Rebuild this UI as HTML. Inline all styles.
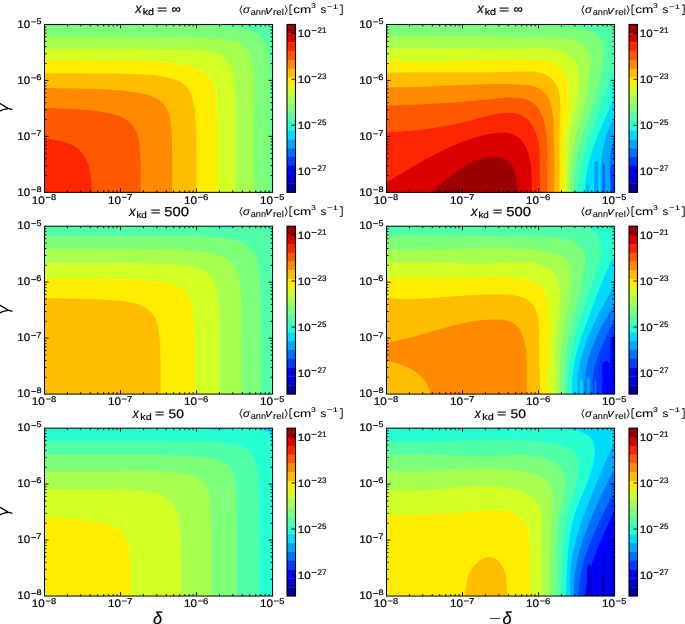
<!DOCTYPE html>
<html><head><meta charset="utf-8"><style>
html,body{margin:0;padding:0;background:#fff;}
svg{display:block;font-family:"Liberation Sans",sans-serif;}
text{stroke:#000;stroke-width:0.2px;text-rendering:geometricPrecision;}
text.ns{stroke-width:0.08px;}
svg{will-change:transform;}
</style></head><body>
<svg width="685" height="624" viewBox="0 0 685 624">
<defs><clipPath id="c00"><rect x="44.50" y="24.45" width="228.10" height="167.90"/></clipPath><clipPath id="c01"><rect x="44.50" y="226.20" width="228.10" height="167.90"/></clipPath><clipPath id="c02"><rect x="44.50" y="428.15" width="228.10" height="167.90"/></clipPath><clipPath id="c10"><rect x="386.50" y="24.45" width="228.10" height="167.90"/></clipPath><clipPath id="c11"><rect x="386.50" y="226.20" width="228.10" height="167.90"/></clipPath><clipPath id="c12"><rect x="386.50" y="428.15" width="228.10" height="167.90"/></clipPath></defs>
<rect width="685" height="624" fill="#fff"/>
<g clip-path="url(#c00)">
<rect x="44.5" y="24.4" width="228.1" height="167.9" fill="#50ffa7"/>
<path d="M43.5 193.5 270.3 193.5 270.2 99.5 270.1 77.7 269.6 64.5 268.7 54.8 268.0 50.8 267.2 47.2 266.2 44.2 264.8 41.1 263.2 38.6 261.4 36.5 259.4 34.7 256.8 33.0 253.9 31.5 250.8 30.3 244.1 28.6 235.5 27.4 224.8 26.6 210.6 26.1 170.0 25.7 43.0 25.7 43.0 193.5Z" fill="#7dff7a"/>
<path d="M43.5 193.5 253.6 193.5 253.6 103.1 253.4 83.8 253.0 72.1 252.1 63.5 250.7 56.9 249.7 53.8 248.4 51.3 247.1 49.2 245.3 47.2 243.5 45.7 241.1 44.1 238.1 42.6 235.0 41.5 228.4 39.9 219.8 38.7 208.6 37.9 193.9 37.4 149.7 36.9 43.0 36.8 43.0 193.5Z" fill="#a7ff50"/>
<path d="M43.5 193.5 235.7 193.5 235.7 120.3 235.5 100.0 235.1 87.3 234.2 77.7 232.7 70.6 231.8 67.5 230.4 64.5 228.9 62.1 227.4 60.2 225.5 58.4 223.3 56.7 220.8 55.3 217.7 54.0 214.7 53.0 211.1 52.1 203.2 50.8 192.8 49.8 179.6 49.2 163.4 48.9 140.5 48.7 43.0 48.5 43.0 193.5Z" fill="#d1ff26"/>
<path d="M43.5 193.5 217.4 193.5 217.4 140.7 217.2 119.8 216.7 106.1 215.8 96.0 214.4 88.3 213.3 84.8 212.1 81.7 210.7 79.2 209.0 76.7 207.1 74.5 204.5 72.3 201.9 70.6 198.9 69.0 195.4 67.5 191.8 66.3 187.8 65.3 182.7 64.3 171.0 62.7 156.8 61.6 139.5 60.8 116.6 60.4 43.0 59.9 43.0 193.5Z" fill="#feed00"/>
<path d="M43.5 193.5 196.3 193.5 196.2 154.4 196.0 133.0 195.5 119.3 194.7 109.2 193.3 101.0 192.4 97.5 191.3 94.4 189.9 91.4 188.3 88.8 186.7 86.8 184.6 84.8 182.2 82.9 179.6 81.4 176.6 80.0 173.5 78.9 165.9 76.9 156.3 75.5 144.6 74.5 130.4 73.9 111.1 73.5 43.0 73.2 43.0 193.5Z" fill="#ffbd00"/>
<path d="M43.5 193.5 172.2 193.5 172.2 159.4 172.0 142.2 171.6 131.0 170.7 122.4 169.4 115.8 168.5 112.7 167.5 110.2 166.2 107.6 164.8 105.6 163.1 103.6 160.9 101.5 158.8 100.0 156.3 98.5 153.2 97.0 150.2 95.8 146.1 94.5 142.0 93.5 133.1 91.9 121.2 90.5 107.5 89.5 91.2 88.8 69.4 88.4 43.0 88.1 43.0 193.5Z" fill="#ff8900"/>
<path d="M43.5 193.5 140.8 193.5 140.7 180.8 140.5 164.5 140.1 153.9 139.4 145.2 138.3 138.6 136.7 133.0 135.7 130.5 134.4 128.1 133.0 125.9 131.4 123.9 127.8 120.7 123.1 117.8 117.0 115.3 109.9 113.2 100.4 111.5 90.0 110.2 77.0 109.2 61.8 108.4 43.0 107.9 43.0 193.5Z" fill="#ff5900"/>
<path d="M43.5 193.5 92.3 193.5 91.8 185.3 91.1 178.7 90.2 172.6 89.1 167.6 87.7 163.0 86.0 158.9 84.0 155.4 81.6 152.2 78.6 149.3 75.5 147.0 71.9 145.0 67.4 143.1 62.3 141.6 56.7 140.3 50.1 139.2 43.0 138.4 43.0 193.5Z" fill="#ff2500"/>
</g>
<path d="M67.39 192.35v-2.0M67.39 24.45v2.0M44.50 175.50h2.0M272.60 175.50h-2.0M80.78 192.35v-2.0M80.78 24.45v2.0M44.50 165.65h2.0M272.60 165.65h-2.0M90.28 192.35v-2.0M90.28 24.45v2.0M44.50 158.65h2.0M272.60 158.65h-2.0M97.65 192.35v-2.0M97.65 24.45v2.0M44.50 153.23h2.0M272.60 153.23h-2.0M103.67 192.35v-2.0M103.67 24.45v2.0M44.50 148.80h2.0M272.60 148.80h-2.0M108.76 192.35v-2.0M108.76 24.45v2.0M44.50 145.05h2.0M272.60 145.05h-2.0M113.16 192.35v-2.0M113.16 24.45v2.0M44.50 141.81h2.0M272.60 141.81h-2.0M117.05 192.35v-2.0M117.05 24.45v2.0M44.50 138.94h2.0M272.60 138.94h-2.0M120.53 192.35v-4.0M120.53 24.45v4.0M44.50 136.38h4.0M272.60 136.38h-4.0M143.42 192.35v-2.0M143.42 24.45v2.0M44.50 119.54h2.0M272.60 119.54h-2.0M156.81 192.35v-2.0M156.81 24.45v2.0M44.50 109.68h2.0M272.60 109.68h-2.0M166.31 192.35v-2.0M166.31 24.45v2.0M44.50 102.69h2.0M272.60 102.69h-2.0M173.68 192.35v-2.0M173.68 24.45v2.0M44.50 97.26h2.0M272.60 97.26h-2.0M179.70 192.35v-2.0M179.70 24.45v2.0M44.50 92.83h2.0M272.60 92.83h-2.0M184.79 192.35v-2.0M184.79 24.45v2.0M44.50 89.09h2.0M272.60 89.09h-2.0M189.20 192.35v-2.0M189.20 24.45v2.0M44.50 85.84h2.0M272.60 85.84h-2.0M193.09 192.35v-2.0M193.09 24.45v2.0M44.50 82.98h2.0M272.60 82.98h-2.0M196.57 192.35v-4.0M196.57 24.45v4.0M44.50 80.42h4.0M272.60 80.42h-4.0M219.45 192.35v-2.0M219.45 24.45v2.0M44.50 63.57h2.0M272.60 63.57h-2.0M232.84 192.35v-2.0M232.84 24.45v2.0M44.50 53.71h2.0M272.60 53.71h-2.0M242.34 192.35v-2.0M242.34 24.45v2.0M44.50 46.72h2.0M272.60 46.72h-2.0M249.71 192.35v-2.0M249.71 24.45v2.0M44.50 41.30h2.0M272.60 41.30h-2.0M255.73 192.35v-2.0M255.73 24.45v2.0M44.50 36.87h2.0M272.60 36.87h-2.0M260.82 192.35v-2.0M260.82 24.45v2.0M44.50 33.12h2.0M272.60 33.12h-2.0M265.23 192.35v-2.0M265.23 24.45v2.0M44.50 29.87h2.0M272.60 29.87h-2.0M269.12 192.35v-2.0M269.12 24.45v2.0M44.50 27.01h2.0M272.60 27.01h-2.0" stroke="#000" stroke-width="0.9" fill="none"/>
<rect x="44.50" y="24.45" width="228.10" height="167.90" fill="none" stroke="#000" stroke-width="1.0"/>
<text transform="translate(17.27 27.74) scale(1.056 1)" font-size="10.99" fill="#000">10</text>
<rect x="31.20" y="21.47" width="4.80" height="0.85" fill="#000"/>
<text transform="translate(36.44 23.77) scale(1.091 1)" font-size="8.21" fill="#000">5</text>
<text transform="translate(17.27 83.71) scale(1.056 1)" font-size="10.99" fill="#000">10</text>
<rect x="31.20" y="77.44" width="4.80" height="0.85" fill="#000"/>
<text transform="translate(36.33 79.74) scale(1.154 1)" font-size="8.10" fill="#000">6</text>
<text transform="translate(17.27 139.67) scale(1.056 1)" font-size="10.99" fill="#000">10</text>
<rect x="31.20" y="133.41" width="4.80" height="0.85" fill="#000"/>
<text transform="translate(36.33 135.78) scale(1.122 1)" font-size="8.33" fill="#000">7</text>
<text transform="translate(17.27 195.64) scale(1.056 1)" font-size="10.99" fill="#000">10</text>
<rect x="31.20" y="189.37" width="4.80" height="0.85" fill="#000"/>
<text transform="translate(36.43 191.67) scale(1.130 1)" font-size="8.10" fill="#000">8</text>
<text transform="translate(31.86 203.74) scale(1.065 1)" font-size="10.99" fill="#000">10</text>
<rect x="45.80" y="196.87" width="4.90" height="0.85" fill="#000"/>
<text transform="translate(51.03 199.82) scale(1.117 1)" font-size="8.38" fill="#000">8</text>
<text transform="translate(107.90 203.74) scale(1.065 1)" font-size="10.99" fill="#000">10</text>
<rect x="121.83" y="196.87" width="4.90" height="0.85" fill="#000"/>
<text transform="translate(126.96 199.90) scale(1.109 1)" font-size="8.62" fill="#000">7</text>
<text transform="translate(183.93 203.74) scale(1.065 1)" font-size="10.99" fill="#000">10</text>
<rect x="197.87" y="196.87" width="4.90" height="0.85" fill="#000"/>
<text transform="translate(202.99 199.82) scale(1.141 1)" font-size="8.38" fill="#000">6</text>
<text transform="translate(259.96 203.74) scale(1.065 1)" font-size="10.99" fill="#000">10</text>
<rect x="273.90" y="196.87" width="4.90" height="0.85" fill="#000"/>
<text transform="translate(279.13 199.81) scale(1.078 1)" font-size="8.50" fill="#000">5</text>
<rect x="287.00" y="24.45" width="8.50" height="9.14" fill="#9b0000"/>
<rect x="287.00" y="33.29" width="8.50" height="9.14" fill="#da0000"/>
<rect x="287.00" y="42.12" width="8.50" height="9.14" fill="#ff2500"/>
<rect x="287.00" y="50.96" width="8.50" height="9.14" fill="#ff5900"/>
<rect x="287.00" y="59.80" width="8.50" height="9.14" fill="#ff8900"/>
<rect x="287.00" y="68.63" width="8.50" height="9.14" fill="#ffbd00"/>
<rect x="287.00" y="77.47" width="8.50" height="9.14" fill="#feed00"/>
<rect x="287.00" y="86.31" width="8.50" height="9.14" fill="#d1ff26"/>
<rect x="287.00" y="95.14" width="8.50" height="9.14" fill="#a7ff50"/>
<rect x="287.00" y="103.98" width="8.50" height="9.14" fill="#7dff7a"/>
<rect x="287.00" y="112.82" width="8.50" height="9.14" fill="#50ffa7"/>
<rect x="287.00" y="121.66" width="8.50" height="9.14" fill="#26ffd1"/>
<rect x="287.00" y="130.49" width="8.50" height="9.14" fill="#00dcfe"/>
<rect x="287.00" y="139.33" width="8.50" height="9.14" fill="#00a8ff"/>
<rect x="287.00" y="148.17" width="8.50" height="9.14" fill="#0070ff"/>
<rect x="287.00" y="157.00" width="8.50" height="9.14" fill="#003cff"/>
<rect x="287.00" y="165.84" width="8.50" height="9.14" fill="#0004ff"/>
<rect x="287.00" y="174.68" width="8.50" height="9.14" fill="#0000da"/>
<rect x="287.00" y="183.51" width="8.50" height="8.84" fill="#00009b"/>
<rect x="287.00" y="24.45" width="8.50" height="167.90" fill="none" stroke="#000" stroke-width="1.1"/>
<text transform="translate(297.77 36.88) scale(1.084 1)" font-size="10.70" fill="#000">10</text>
<rect x="311.60" y="30.22" width="4.90" height="0.85" fill="#000"/>
<text transform="translate(317.50 33.24) scale(0.987 1)" font-size="8.14" fill="#000">21</text>
<text transform="translate(297.77 82.91) scale(1.084 1)" font-size="10.70" fill="#000">10</text>
<rect x="311.60" y="76.24" width="4.90" height="0.85" fill="#000"/>
<text transform="translate(317.50 79.19) scale(1.001 1)" font-size="8.03" fill="#000">23</text>
<text transform="translate(297.77 128.93) scale(1.084 1)" font-size="10.70" fill="#000">10</text>
<rect x="311.60" y="122.27" width="4.90" height="0.85" fill="#000"/>
<text transform="translate(317.50 125.21) scale(0.992 1)" font-size="8.03" fill="#000">25</text>
<text transform="translate(297.77 174.96) scale(1.084 1)" font-size="10.70" fill="#000">10</text>
<rect x="311.60" y="168.29" width="4.90" height="0.85" fill="#000"/>
<text transform="translate(317.50 171.32) scale(0.987 1)" font-size="8.14" fill="#000">27</text>
<path d="M295.50 33.24h-4M295.50 79.27h-4M295.50 125.29h-4M295.50 171.32h-4" stroke="#000" stroke-width="0.9"/>
<text transform="translate(135.21 13.25) scale(0.943 1)" font-size="13.58" font-style="italic" fill="#000">x</text>
<text transform="translate(142.65 15.15) scale(1.122 1)" font-size="9.59" fill="#000">kd</text>
<text transform="translate(157.02 12.71) scale(1.605 1)" font-size="10.94" fill="#000">=</text>
<text transform="translate(171.38 12.96) scale(1.075 1)" font-size="12.11" fill="#000">∞</text>
<path d="M242.00 5.40L239.90 10.00L242.00 14.60" stroke="#000" stroke-width="0.9" fill="none"/>
<path d="M285.10 5.40L287.20 10.00L285.10 14.60" stroke="#000" stroke-width="0.9" fill="none"/>
<text class="ns" transform="translate(243.06 13.39) scale(1.089 1)" font-size="10.56" font-style="italic" fill="#000">σ</text>
<text class="ns" transform="translate(250.73 15.01) scale(1.029 1)" font-size="8.91" fill="#000">ann</text>
<text class="ns" transform="translate(265.14 13.50) scale(1.186 1)" font-size="11.13" font-style="italic" fill="#000">v</text>
<text class="ns" transform="translate(272.90 15.01) scale(1.123 1)" font-size="8.90" fill="#000">rel</text>
<path d="M292.30 5.00H290.00V14.60H292.30" stroke="#000" stroke-width="0.95" fill="none"/>
<text class="ns" transform="translate(293.36 13.19) scale(1.280 1)" font-size="10.55" fill="#000">cm</text>
<text class="ns" transform="translate(311.05 7.83) scale(1.239 1)" font-size="7.04" fill="#000">3</text>
<text class="ns" transform="translate(320.55 13.19) scale(1.103 1)" font-size="10.55" fill="#000">s</text>
<text class="ns" transform="translate(327.12 8.70) scale(1.474 1)" font-size="6.52" fill="#000">−1</text>
<path d="M339.90 5.00H342.20V14.60H339.90" stroke="#000" stroke-width="0.95" fill="none"/>
<g clip-path="url(#c01)">
<rect x="44.5" y="226.2" width="228.1" height="167.9" fill="#26ffd1"/>
<path d="M200.0 225.2 201.6 225.8 203.2 226.3 204.7 226.7 206.3 227.1 207.9 227.4 209.4 227.7 210.9 227.9 212.5 228.1 214.0 228.2 215.5 228.3 217.0 228.4 218.5 228.4 220.0 228.4 221.5 228.4 223.0 228.3 224.4 228.2 225.9 228.1 227.4 228.0 228.9 227.9 230.4 227.7 231.8 227.6 233.3 227.4 234.8 227.2 236.3 227.1 237.8 226.9 239.3 226.7 240.8 226.6 242.3 226.5 243.8 226.3 245.3 226.2 246.8 226.1 248.3 226.1 249.9 226.0 251.4 226.0 253.0 226.0 254.5 226.1 256.1 226.2 257.7 226.3 259.3 226.4 260.9 226.7 262.5 226.9 264.1 227.2 265.6 227.7 267.0 228.2 268.3 228.9 269.3 229.8 270.2 230.8 270.8 232.0 271.2 233.4 271.5 234.8 271.7 236.3 271.9 237.8 272.1 239.2 272.3 240.7 272.4 242.2 272.6 243.7 272.7 245.2 272.8 246.7 272.9 248.2 273.1 249.7 273.1 251.2 273.2 252.7 273.3 254.2 273.4 255.7 273.5 257.3 273.5 258.8 273.6 260.3 273.6 261.8 273.7 263.3 273.7 264.8 273.7 266.3 273.7 267.9 273.7 269.4 273.8 270.9 273.8 272.4 273.8 273.9 273.8 275.5 273.8 277.0 273.7 278.5 273.7 280.0 273.7 281.6 273.7 283.1 273.7 284.6 273.6 286.1 273.6 287.7 273.6 289.2 273.5 290.7 273.5 292.3 273.5 293.8 273.4 295.3 273.4 296.8 273.4 298.4 273.3 299.9 273.3 301.4 273.3 302.9 273.2 304.5 273.2 306.0 273.2 307.5 273.1 309.0 273.1 310.6 273.1 312.1 273.1 313.6 273.0 315.1 273.0 316.7 273.0 318.2 273.0 319.7 273.0 321.2 273.0 322.7 273.0 324.3 273.0 325.8 273.0 327.3 273.0 328.8 273.0 330.3 273.0 331.8 273.0 333.4 273.1 334.9 273.1 336.4 273.1 337.9 273.1 339.4 273.2 340.9 273.2 342.4 273.2 343.9 273.2 345.4 273.3 347.0 273.3 348.5 273.3 350.0 273.4 351.5 273.4 353.0 273.4 354.5 273.4 356.0 273.5 357.5 273.5 359.0 273.5 360.6 273.5 362.1 273.6 363.6 273.6 365.1 273.6 366.6 273.6 368.1 273.6 369.6 273.6 371.1 273.7 372.7 273.7 374.2 273.7 375.7 273.7 377.2 273.7 378.7 273.7 380.2 273.6 381.8 273.6 383.3 273.6 384.8 273.6 386.3 273.6 387.9 273.5 389.4 273.5 390.9 273.4 392.4 273.4 394.0 273.3 395.5 273.3 397.0 41.5 397.1 41.5 223.2Z" fill="#50ffa7"/>
<path d="M43.5 395.2 260.9 395.2 260.8 321.1 260.6 296.7 260.1 281.5 259.1 270.3 258.4 265.7 257.5 261.6 256.5 258.1 255.2 255.0 253.6 252.0 251.7 249.5 249.2 246.9 246.7 245.0 244.0 243.4 240.6 241.9 237.0 240.6 233.5 239.7 224.8 238.2 213.7 237.1 198.9 236.5 182.7 236.1 159.3 236.0 43.0 235.9 43.0 395.2Z" fill="#7dff7a"/>
<path d="M43.5 395.2 241.7 395.2 241.6 334.8 241.4 311.4 240.9 296.2 240.0 285.5 239.3 280.9 238.4 276.9 237.4 273.3 235.9 269.8 234.2 266.7 232.5 264.3 230.4 262.1 227.9 260.0 225.0 258.1 221.8 256.5 218.2 255.2 214.2 254.0 209.6 252.9 204.5 252.0 192.8 250.7 177.6 249.7 158.8 249.1 133.4 248.8 43.0 248.5 43.0 395.2Z" fill="#a7ff50"/>
<path d="M43.5 395.2 219.7 395.2 219.7 343.9 219.5 322.1 219.0 307.9 218.1 297.2 216.7 289.1 215.7 285.5 214.5 282.5 213.0 279.4 211.3 276.9 209.5 274.9 207.2 272.8 205.0 271.3 202.0 269.7 198.9 268.4 195.4 267.3 187.8 265.7 178.1 264.5 165.4 263.7 150.7 263.2 130.4 263.0 43.0 262.9 43.0 395.2Z" fill="#d1ff26"/>
<path d="M43.5 395.2 194.4 395.2 194.4 353.1 194.2 333.8 193.7 321.1 192.9 311.4 191.6 303.8 190.7 300.8 189.5 297.7 188.3 295.2 186.7 292.8 185.2 291.0 183.1 289.1 180.6 287.3 178.1 285.9 175.1 284.6 172.0 283.6 164.9 281.9 155.8 280.7 144.1 279.8 129.8 279.2 111.1 278.9 43.0 278.6 43.0 395.2Z" fill="#feed00"/>
<path d="M43.5 395.2 160.8 395.2 160.8 376.4 160.5 357.6 160.1 344.9 159.3 335.3 158.1 327.7 157.3 324.1 156.3 321.1 155.2 318.5 153.8 316.0 152.5 314.0 150.7 311.9 148.6 310.0 146.5 308.4 143.9 306.8 141.0 305.5 134.4 303.3 126.3 301.6 116.6 300.4 104.4 299.5 89.2 298.9 69.4 298.5 43.0 298.2 43.0 395.2Z" fill="#ffbd00"/>
</g>
<path d="M67.39 394.10v-2.0M67.39 226.20v2.0M44.50 377.25h2.0M272.60 377.25h-2.0M80.78 394.10v-2.0M80.78 226.20v2.0M44.50 367.40h2.0M272.60 367.40h-2.0M90.28 394.10v-2.0M90.28 226.20v2.0M44.50 360.40h2.0M272.60 360.40h-2.0M97.65 394.10v-2.0M97.65 226.20v2.0M44.50 354.98h2.0M272.60 354.98h-2.0M103.67 394.10v-2.0M103.67 226.20v2.0M44.50 350.55h2.0M272.60 350.55h-2.0M108.76 394.10v-2.0M108.76 226.20v2.0M44.50 346.80h2.0M272.60 346.80h-2.0M113.16 394.10v-2.0M113.16 226.20v2.0M44.50 343.56h2.0M272.60 343.56h-2.0M117.05 394.10v-2.0M117.05 226.20v2.0M44.50 340.69h2.0M272.60 340.69h-2.0M120.53 394.10v-4.0M120.53 226.20v4.0M44.50 338.13h4.0M272.60 338.13h-4.0M143.42 394.10v-2.0M143.42 226.20v2.0M44.50 321.29h2.0M272.60 321.29h-2.0M156.81 394.10v-2.0M156.81 226.20v2.0M44.50 311.43h2.0M272.60 311.43h-2.0M166.31 394.10v-2.0M166.31 226.20v2.0M44.50 304.44h2.0M272.60 304.44h-2.0M173.68 394.10v-2.0M173.68 226.20v2.0M44.50 299.01h2.0M272.60 299.01h-2.0M179.70 394.10v-2.0M179.70 226.20v2.0M44.50 294.58h2.0M272.60 294.58h-2.0M184.79 394.10v-2.0M184.79 226.20v2.0M44.50 290.84h2.0M272.60 290.84h-2.0M189.20 394.10v-2.0M189.20 226.20v2.0M44.50 287.59h2.0M272.60 287.59h-2.0M193.09 394.10v-2.0M193.09 226.20v2.0M44.50 284.73h2.0M272.60 284.73h-2.0M196.57 394.10v-4.0M196.57 226.20v4.0M44.50 282.17h4.0M272.60 282.17h-4.0M219.45 394.10v-2.0M219.45 226.20v2.0M44.50 265.32h2.0M272.60 265.32h-2.0M232.84 394.10v-2.0M232.84 226.20v2.0M44.50 255.46h2.0M272.60 255.46h-2.0M242.34 394.10v-2.0M242.34 226.20v2.0M44.50 248.47h2.0M272.60 248.47h-2.0M249.71 394.10v-2.0M249.71 226.20v2.0M44.50 243.05h2.0M272.60 243.05h-2.0M255.73 394.10v-2.0M255.73 226.20v2.0M44.50 238.62h2.0M272.60 238.62h-2.0M260.82 394.10v-2.0M260.82 226.20v2.0M44.50 234.87h2.0M272.60 234.87h-2.0M265.23 394.10v-2.0M265.23 226.20v2.0M44.50 231.62h2.0M272.60 231.62h-2.0M269.12 394.10v-2.0M269.12 226.20v2.0M44.50 228.76h2.0M272.60 228.76h-2.0" stroke="#000" stroke-width="0.9" fill="none"/>
<rect x="44.50" y="226.20" width="228.10" height="167.90" fill="none" stroke="#000" stroke-width="1.0"/>
<text transform="translate(17.27 229.49) scale(1.056 1)" font-size="10.99" fill="#000">10</text>
<rect x="31.20" y="223.22" width="4.80" height="0.85" fill="#000"/>
<text transform="translate(36.44 225.52) scale(1.091 1)" font-size="8.21" fill="#000">5</text>
<text transform="translate(17.27 285.46) scale(1.056 1)" font-size="10.99" fill="#000">10</text>
<rect x="31.20" y="279.19" width="4.80" height="0.85" fill="#000"/>
<text transform="translate(36.33 281.49) scale(1.154 1)" font-size="8.10" fill="#000">6</text>
<text transform="translate(17.27 341.42) scale(1.056 1)" font-size="10.99" fill="#000">10</text>
<rect x="31.20" y="335.16" width="4.80" height="0.85" fill="#000"/>
<text transform="translate(36.33 337.53) scale(1.122 1)" font-size="8.33" fill="#000">7</text>
<text transform="translate(17.27 397.39) scale(1.056 1)" font-size="10.99" fill="#000">10</text>
<rect x="31.20" y="391.12" width="4.80" height="0.85" fill="#000"/>
<text transform="translate(36.43 393.42) scale(1.130 1)" font-size="8.10" fill="#000">8</text>
<text transform="translate(31.86 405.49) scale(1.065 1)" font-size="10.99" fill="#000">10</text>
<rect x="45.80" y="398.62" width="4.90" height="0.85" fill="#000"/>
<text transform="translate(51.03 401.57) scale(1.117 1)" font-size="8.38" fill="#000">8</text>
<text transform="translate(107.90 405.49) scale(1.065 1)" font-size="10.99" fill="#000">10</text>
<rect x="121.83" y="398.62" width="4.90" height="0.85" fill="#000"/>
<text transform="translate(126.96 401.65) scale(1.109 1)" font-size="8.62" fill="#000">7</text>
<text transform="translate(183.93 405.49) scale(1.065 1)" font-size="10.99" fill="#000">10</text>
<rect x="197.87" y="398.62" width="4.90" height="0.85" fill="#000"/>
<text transform="translate(202.99 401.57) scale(1.141 1)" font-size="8.38" fill="#000">6</text>
<text transform="translate(259.96 405.49) scale(1.065 1)" font-size="10.99" fill="#000">10</text>
<rect x="273.90" y="398.62" width="4.90" height="0.85" fill="#000"/>
<text transform="translate(279.13 401.57) scale(1.078 1)" font-size="8.50" fill="#000">5</text>
<rect x="287.00" y="226.20" width="8.50" height="9.14" fill="#9b0000"/>
<rect x="287.00" y="235.04" width="8.50" height="9.14" fill="#da0000"/>
<rect x="287.00" y="243.87" width="8.50" height="9.14" fill="#ff2500"/>
<rect x="287.00" y="252.71" width="8.50" height="9.14" fill="#ff5900"/>
<rect x="287.00" y="261.55" width="8.50" height="9.14" fill="#ff8900"/>
<rect x="287.00" y="270.38" width="8.50" height="9.14" fill="#ffbd00"/>
<rect x="287.00" y="279.22" width="8.50" height="9.14" fill="#feed00"/>
<rect x="287.00" y="288.06" width="8.50" height="9.14" fill="#d1ff26"/>
<rect x="287.00" y="296.89" width="8.50" height="9.14" fill="#a7ff50"/>
<rect x="287.00" y="305.73" width="8.50" height="9.14" fill="#7dff7a"/>
<rect x="287.00" y="314.57" width="8.50" height="9.14" fill="#50ffa7"/>
<rect x="287.00" y="323.41" width="8.50" height="9.14" fill="#26ffd1"/>
<rect x="287.00" y="332.24" width="8.50" height="9.14" fill="#00dcfe"/>
<rect x="287.00" y="341.08" width="8.50" height="9.14" fill="#00a8ff"/>
<rect x="287.00" y="349.92" width="8.50" height="9.14" fill="#0070ff"/>
<rect x="287.00" y="358.75" width="8.50" height="9.14" fill="#003cff"/>
<rect x="287.00" y="367.59" width="8.50" height="9.14" fill="#0004ff"/>
<rect x="287.00" y="376.43" width="8.50" height="9.14" fill="#0000da"/>
<rect x="287.00" y="385.26" width="8.50" height="8.84" fill="#00009b"/>
<rect x="287.00" y="226.20" width="8.50" height="167.90" fill="none" stroke="#000" stroke-width="1.1"/>
<text transform="translate(297.77 238.63) scale(1.084 1)" font-size="10.70" fill="#000">10</text>
<rect x="311.60" y="231.97" width="4.90" height="0.85" fill="#000"/>
<text transform="translate(317.50 234.99) scale(0.987 1)" font-size="8.14" fill="#000">21</text>
<text transform="translate(297.77 284.66) scale(1.084 1)" font-size="10.70" fill="#000">10</text>
<rect x="311.60" y="277.99" width="4.90" height="0.85" fill="#000"/>
<text transform="translate(317.50 280.94) scale(1.001 1)" font-size="8.03" fill="#000">23</text>
<text transform="translate(297.77 330.68) scale(1.084 1)" font-size="10.70" fill="#000">10</text>
<rect x="311.60" y="324.02" width="4.90" height="0.85" fill="#000"/>
<text transform="translate(317.50 326.96) scale(0.992 1)" font-size="8.03" fill="#000">25</text>
<text transform="translate(297.77 376.71) scale(1.084 1)" font-size="10.70" fill="#000">10</text>
<rect x="311.60" y="370.04" width="4.90" height="0.85" fill="#000"/>
<text transform="translate(317.50 373.07) scale(0.987 1)" font-size="8.14" fill="#000">27</text>
<path d="M295.50 234.99h-4M295.50 281.02h-4M295.50 327.04h-4M295.50 373.07h-4" stroke="#000" stroke-width="0.9"/>
<text transform="translate(128.93 215.85) scale(0.969 1)" font-size="13.58" font-style="italic" fill="#000">x</text>
<text transform="translate(136.41 217.56) scale(1.062 1)" font-size="9.32" fill="#000">kd</text>
<text transform="translate(150.77 215.31) scale(1.511 1)" font-size="10.94" fill="#000">=</text>
<text transform="translate(164.31 215.62) scale(1.141 1)" font-size="12.96" fill="#000">500</text>
<path d="M242.00 207.15L239.90 211.75L242.00 216.35" stroke="#000" stroke-width="0.9" fill="none"/>
<path d="M285.10 207.15L287.20 211.75L285.10 216.35" stroke="#000" stroke-width="0.9" fill="none"/>
<text class="ns" transform="translate(243.06 215.14) scale(1.089 1)" font-size="10.56" font-style="italic" fill="#000">σ</text>
<text class="ns" transform="translate(250.73 216.76) scale(1.029 1)" font-size="8.91" fill="#000">ann</text>
<text class="ns" transform="translate(265.14 215.25) scale(1.186 1)" font-size="11.13" font-style="italic" fill="#000">v</text>
<text class="ns" transform="translate(272.90 216.76) scale(1.123 1)" font-size="8.90" fill="#000">rel</text>
<path d="M292.30 206.75H290.00V216.35H292.30" stroke="#000" stroke-width="0.95" fill="none"/>
<text class="ns" transform="translate(293.36 214.94) scale(1.280 1)" font-size="10.55" fill="#000">cm</text>
<text class="ns" transform="translate(311.05 209.58) scale(1.239 1)" font-size="7.04" fill="#000">3</text>
<text class="ns" transform="translate(320.55 214.94) scale(1.103 1)" font-size="10.55" fill="#000">s</text>
<text class="ns" transform="translate(327.12 210.45) scale(1.474 1)" font-size="6.52" fill="#000">−1</text>
<path d="M339.90 206.75H342.20V216.35H339.90" stroke="#000" stroke-width="0.95" fill="none"/>
<g clip-path="url(#c02)">
<rect x="44.5" y="428.1" width="228.1" height="167.9" fill="#00dcfe"/>
<path d="M200.0 426.8 201.6 427.4 203.1 427.9 204.7 428.4 206.2 428.8 207.7 429.1 209.3 429.4 210.8 429.6 212.3 429.8 213.8 429.9 215.3 430.0 216.8 430.0 218.3 430.0 219.8 430.0 221.3 430.0 222.8 429.9 224.3 429.8 225.8 429.7 227.2 429.5 228.7 429.4 230.2 429.2 231.7 429.0 233.2 428.9 234.7 428.7 236.2 428.5 237.7 428.3 239.2 428.2 240.7 428.1 242.2 427.9 243.7 427.8 245.2 427.7 246.8 427.7 248.3 427.7 249.9 427.7 251.4 427.7 253.0 427.8 254.5 427.9 256.1 428.1 257.7 428.3 259.3 428.6 260.9 428.9 262.5 429.4 264.0 429.9 265.5 430.5 266.7 431.2 267.9 432.1 268.9 433.1 269.6 434.2 270.2 435.5 270.6 436.8 270.9 438.3 271.1 439.7 271.3 441.2 271.5 442.7 271.6 444.2 271.8 445.7 271.9 447.2 272.1 448.7 272.2 450.2 272.3 451.7 272.4 453.2 272.5 454.7 272.6 456.2 272.7 457.7 272.8 459.2 272.8 460.7 272.9 462.2 272.9 463.7 273.0 465.2 273.0 466.8 273.0 468.3 273.1 469.8 273.1 471.3 273.1 472.8 273.1 474.4 273.1 475.9 273.1 477.4 273.1 478.9 273.1 480.5 273.1 482.0 273.1 483.5 273.1 485.0 273.0 486.6 273.0 488.1 273.0 489.6 273.0 491.1 272.9 492.7 272.9 494.2 272.9 495.7 272.8 497.3 272.8 498.8 272.8 500.3 272.7 501.8 272.7 503.4 272.7 504.9 272.6 506.4 272.6 508.0 272.6 509.5 272.6 511.0 272.5 512.5 272.5 514.1 272.5 515.6 272.5 517.1 272.5 518.6 272.5 520.1 272.5 521.7 272.5 523.2 272.5 524.7 272.5 526.2 272.5 527.7 272.5 529.3 272.5 530.8 272.5 532.3 272.5 533.8 272.6 535.3 272.6 536.8 272.6 538.3 272.6 539.9 272.7 541.4 272.7 542.9 272.7 544.4 272.8 545.9 272.8 547.4 272.8 548.9 272.9 550.4 272.9 551.9 272.9 553.5 273.0 555.0 273.0 556.5 273.0 558.0 273.1 559.5 273.1 561.0 273.1 562.5 273.1 564.0 273.2 565.6 273.2 567.1 273.2 568.6 273.2 570.1 273.2 571.6 273.3 573.1 273.3 574.6 273.3 576.2 273.3 577.7 273.3 579.2 273.3 580.7 273.3 582.2 273.3 583.8 273.2 585.3 273.2 586.8 273.2 588.3 273.2 589.9 273.1 591.4 273.1 592.9 273.0 594.4 273.0 596.0 272.9 597.5 272.9 599.0 41.5 599.0 41.5 425.1Z" fill="#26ffd1"/>
<path d="M43.5 597.2 259.1 597.2 259.1 515.4 258.9 494.1 258.4 480.4 257.5 470.7 256.9 466.6 256.0 463.1 255.1 460.0 253.8 457.0 252.2 454.5 250.2 452.0 248.2 450.1 245.7 448.3 242.9 446.8 239.6 445.5 236.0 444.5 232.5 443.7 223.8 442.4 212.7 441.5 198.4 440.9 155.8 440.5 43.0 440.4 43.0 597.2Z" fill="#50ffa7"/>
<path d="M43.5 597.2 237.0 597.2 237.0 521.5 236.8 502.7 236.4 491.0 235.5 482.4 234.2 475.8 233.1 472.7 232.0 470.3 230.6 468.2 228.9 466.1 226.9 464.3 224.4 462.6 221.8 461.3 218.7 460.1 212.1 458.4 203.5 457.0 192.3 456.1 178.2 455.5 160.3 455.1 135.9 454.9 43.0 454.7 43.0 597.2Z" fill="#7dff7a"/>
<path d="M43.5 597.2 211.6 597.2 211.5 538.3 211.3 520.0 210.9 508.3 210.0 499.1 208.7 492.5 207.8 489.5 206.7 487.0 205.2 484.4 203.6 482.4 202.0 480.8 200.0 479.2 197.7 477.8 194.9 476.5 188.8 474.5 180.6 473.0 171.0 472.0 158.3 471.3 142.5 470.8 121.2 470.6 43.0 470.4 43.0 597.2Z" fill="#a7ff50"/>
<path d="M43.5 597.2 181.2 597.2 181.2 569.2 181.0 548.9 180.5 535.2 179.7 525.1 178.4 516.9 177.5 513.4 176.4 510.3 175.1 507.3 173.6 504.7 172.0 502.6 170.0 500.5 167.7 498.6 165.4 497.2 162.9 495.9 159.8 494.6 156.4 493.6 152.7 492.6 144.1 491.2 133.4 490.2 120.7 489.6 103.9 489.2 43.0 488.9 43.0 597.2Z" fill="#d1ff26"/>
<path d="M43.5 597.2 131.0 597.2 130.9 590.6 130.7 574.8 130.3 563.6 129.7 555.0 128.7 547.9 127.3 542.3 125.3 537.2 122.7 533.2 120.9 531.1 119.2 529.6 117.1 528.0 114.7 526.6 109.5 524.3 102.9 522.3 95.3 520.9 85.7 519.7 74.5 518.8 60.3 518.1 43.0 517.7 43.0 597.2Z" fill="#feed00"/>
</g>
<path d="M67.39 596.05v-2.0M67.39 428.15v2.0M44.50 579.20h2.0M272.60 579.20h-2.0M80.78 596.05v-2.0M80.78 428.15v2.0M44.50 569.35h2.0M272.60 569.35h-2.0M90.28 596.05v-2.0M90.28 428.15v2.0M44.50 562.35h2.0M272.60 562.35h-2.0M97.65 596.05v-2.0M97.65 428.15v2.0M44.50 556.93h2.0M272.60 556.93h-2.0M103.67 596.05v-2.0M103.67 428.15v2.0M44.50 552.50h2.0M272.60 552.50h-2.0M108.76 596.05v-2.0M108.76 428.15v2.0M44.50 548.75h2.0M272.60 548.75h-2.0M113.16 596.05v-2.0M113.16 428.15v2.0M44.50 545.51h2.0M272.60 545.51h-2.0M117.05 596.05v-2.0M117.05 428.15v2.0M44.50 542.64h2.0M272.60 542.64h-2.0M120.53 596.05v-4.0M120.53 428.15v4.0M44.50 540.08h4.0M272.60 540.08h-4.0M143.42 596.05v-2.0M143.42 428.15v2.0M44.50 523.24h2.0M272.60 523.24h-2.0M156.81 596.05v-2.0M156.81 428.15v2.0M44.50 513.38h2.0M272.60 513.38h-2.0M166.31 596.05v-2.0M166.31 428.15v2.0M44.50 506.39h2.0M272.60 506.39h-2.0M173.68 596.05v-2.0M173.68 428.15v2.0M44.50 500.96h2.0M272.60 500.96h-2.0M179.70 596.05v-2.0M179.70 428.15v2.0M44.50 496.53h2.0M272.60 496.53h-2.0M184.79 596.05v-2.0M184.79 428.15v2.0M44.50 492.79h2.0M272.60 492.79h-2.0M189.20 596.05v-2.0M189.20 428.15v2.0M44.50 489.54h2.0M272.60 489.54h-2.0M193.09 596.05v-2.0M193.09 428.15v2.0M44.50 486.68h2.0M272.60 486.68h-2.0M196.57 596.05v-4.0M196.57 428.15v4.0M44.50 484.12h4.0M272.60 484.12h-4.0M219.45 596.05v-2.0M219.45 428.15v2.0M44.50 467.27h2.0M272.60 467.27h-2.0M232.84 596.05v-2.0M232.84 428.15v2.0M44.50 457.41h2.0M272.60 457.41h-2.0M242.34 596.05v-2.0M242.34 428.15v2.0M44.50 450.42h2.0M272.60 450.42h-2.0M249.71 596.05v-2.0M249.71 428.15v2.0M44.50 445.00h2.0M272.60 445.00h-2.0M255.73 596.05v-2.0M255.73 428.15v2.0M44.50 440.57h2.0M272.60 440.57h-2.0M260.82 596.05v-2.0M260.82 428.15v2.0M44.50 436.82h2.0M272.60 436.82h-2.0M265.23 596.05v-2.0M265.23 428.15v2.0M44.50 433.57h2.0M272.60 433.57h-2.0M269.12 596.05v-2.0M269.12 428.15v2.0M44.50 430.71h2.0M272.60 430.71h-2.0" stroke="#000" stroke-width="0.9" fill="none"/>
<rect x="44.50" y="428.15" width="228.10" height="167.90" fill="none" stroke="#000" stroke-width="1.0"/>
<text transform="translate(17.27 431.44) scale(1.056 1)" font-size="10.99" fill="#000">10</text>
<rect x="31.20" y="425.17" width="4.80" height="0.85" fill="#000"/>
<text transform="translate(36.44 427.47) scale(1.091 1)" font-size="8.21" fill="#000">5</text>
<text transform="translate(17.27 487.41) scale(1.056 1)" font-size="10.99" fill="#000">10</text>
<rect x="31.20" y="481.14" width="4.80" height="0.85" fill="#000"/>
<text transform="translate(36.33 483.44) scale(1.154 1)" font-size="8.10" fill="#000">6</text>
<text transform="translate(17.27 543.37) scale(1.056 1)" font-size="10.99" fill="#000">10</text>
<rect x="31.20" y="537.11" width="4.80" height="0.85" fill="#000"/>
<text transform="translate(36.33 539.48) scale(1.122 1)" font-size="8.33" fill="#000">7</text>
<text transform="translate(17.27 599.34) scale(1.056 1)" font-size="10.99" fill="#000">10</text>
<rect x="31.20" y="593.08" width="4.80" height="0.85" fill="#000"/>
<text transform="translate(36.43 595.37) scale(1.130 1)" font-size="8.10" fill="#000">8</text>
<text transform="translate(31.86 607.44) scale(1.065 1)" font-size="10.99" fill="#000">10</text>
<rect x="45.80" y="600.58" width="4.90" height="0.85" fill="#000"/>
<text transform="translate(51.03 603.52) scale(1.117 1)" font-size="8.38" fill="#000">8</text>
<text transform="translate(107.90 607.44) scale(1.065 1)" font-size="10.99" fill="#000">10</text>
<rect x="121.83" y="600.58" width="4.90" height="0.85" fill="#000"/>
<text transform="translate(126.96 603.60) scale(1.109 1)" font-size="8.62" fill="#000">7</text>
<text transform="translate(183.93 607.44) scale(1.065 1)" font-size="10.99" fill="#000">10</text>
<rect x="197.87" y="600.58" width="4.90" height="0.85" fill="#000"/>
<text transform="translate(202.99 603.52) scale(1.141 1)" font-size="8.38" fill="#000">6</text>
<text transform="translate(259.96 607.44) scale(1.065 1)" font-size="10.99" fill="#000">10</text>
<rect x="273.90" y="600.58" width="4.90" height="0.85" fill="#000"/>
<text transform="translate(279.13 603.51) scale(1.078 1)" font-size="8.50" fill="#000">5</text>
<rect x="287.00" y="428.15" width="8.50" height="9.14" fill="#9b0000"/>
<rect x="287.00" y="436.99" width="8.50" height="9.14" fill="#da0000"/>
<rect x="287.00" y="445.82" width="8.50" height="9.14" fill="#ff2500"/>
<rect x="287.00" y="454.66" width="8.50" height="9.14" fill="#ff5900"/>
<rect x="287.00" y="463.50" width="8.50" height="9.14" fill="#ff8900"/>
<rect x="287.00" y="472.33" width="8.50" height="9.14" fill="#ffbd00"/>
<rect x="287.00" y="481.17" width="8.50" height="9.14" fill="#feed00"/>
<rect x="287.00" y="490.01" width="8.50" height="9.14" fill="#d1ff26"/>
<rect x="287.00" y="498.84" width="8.50" height="9.14" fill="#a7ff50"/>
<rect x="287.00" y="507.68" width="8.50" height="9.14" fill="#7dff7a"/>
<rect x="287.00" y="516.52" width="8.50" height="9.14" fill="#50ffa7"/>
<rect x="287.00" y="525.36" width="8.50" height="9.14" fill="#26ffd1"/>
<rect x="287.00" y="534.19" width="8.50" height="9.14" fill="#00dcfe"/>
<rect x="287.00" y="543.03" width="8.50" height="9.14" fill="#00a8ff"/>
<rect x="287.00" y="551.87" width="8.50" height="9.14" fill="#0070ff"/>
<rect x="287.00" y="560.70" width="8.50" height="9.14" fill="#003cff"/>
<rect x="287.00" y="569.54" width="8.50" height="9.14" fill="#0004ff"/>
<rect x="287.00" y="578.38" width="8.50" height="9.14" fill="#0000da"/>
<rect x="287.00" y="587.21" width="8.50" height="8.84" fill="#00009b"/>
<rect x="287.00" y="428.15" width="8.50" height="167.90" fill="none" stroke="#000" stroke-width="1.1"/>
<text transform="translate(297.77 440.58) scale(1.084 1)" font-size="10.70" fill="#000">10</text>
<rect x="311.60" y="433.92" width="4.90" height="0.85" fill="#000"/>
<text transform="translate(317.50 436.94) scale(0.987 1)" font-size="8.14" fill="#000">21</text>
<text transform="translate(297.77 486.61) scale(1.084 1)" font-size="10.70" fill="#000">10</text>
<rect x="311.60" y="479.94" width="4.90" height="0.85" fill="#000"/>
<text transform="translate(317.50 482.89) scale(1.001 1)" font-size="8.03" fill="#000">23</text>
<text transform="translate(297.77 532.63) scale(1.084 1)" font-size="10.70" fill="#000">10</text>
<rect x="311.60" y="525.97" width="4.90" height="0.85" fill="#000"/>
<text transform="translate(317.50 528.91) scale(0.992 1)" font-size="8.03" fill="#000">25</text>
<text transform="translate(297.77 578.66) scale(1.084 1)" font-size="10.70" fill="#000">10</text>
<rect x="311.60" y="571.99" width="4.90" height="0.85" fill="#000"/>
<text transform="translate(317.50 575.02) scale(0.987 1)" font-size="8.14" fill="#000">27</text>
<path d="M295.50 436.94h-4M295.50 482.97h-4M295.50 528.99h-4M295.50 575.02h-4" stroke="#000" stroke-width="0.9"/>
<text transform="translate(132.78 417.85) scale(0.878 1)" font-size="13.58" font-style="italic" fill="#000">x</text>
<text transform="translate(140.35 419.56) scale(1.155 1)" font-size="9.32" fill="#000">kd</text>
<text transform="translate(155.10 417.31) scale(1.455 1)" font-size="10.94" fill="#000">=</text>
<text transform="translate(168.55 417.72) scale(1.105 1)" font-size="12.54" fill="#000">50</text>
<path d="M242.00 409.10L239.90 413.70L242.00 418.30" stroke="#000" stroke-width="0.9" fill="none"/>
<path d="M285.10 409.10L287.20 413.70L285.10 418.30" stroke="#000" stroke-width="0.9" fill="none"/>
<text class="ns" transform="translate(243.06 417.09) scale(1.089 1)" font-size="10.56" font-style="italic" fill="#000">σ</text>
<text class="ns" transform="translate(250.73 418.71) scale(1.029 1)" font-size="8.91" fill="#000">ann</text>
<text class="ns" transform="translate(265.14 417.20) scale(1.186 1)" font-size="11.13" font-style="italic" fill="#000">v</text>
<text class="ns" transform="translate(272.90 418.71) scale(1.123 1)" font-size="8.90" fill="#000">rel</text>
<path d="M292.30 408.70H290.00V418.30H292.30" stroke="#000" stroke-width="0.95" fill="none"/>
<text class="ns" transform="translate(293.36 416.89) scale(1.280 1)" font-size="10.55" fill="#000">cm</text>
<text class="ns" transform="translate(311.05 411.53) scale(1.239 1)" font-size="7.04" fill="#000">3</text>
<text class="ns" transform="translate(320.55 416.89) scale(1.103 1)" font-size="10.55" fill="#000">s</text>
<text class="ns" transform="translate(327.12 412.40) scale(1.474 1)" font-size="6.52" fill="#000">−1</text>
<path d="M339.90 408.70H342.20V418.30H339.90" stroke="#000" stroke-width="0.95" fill="none"/>
<g clip-path="url(#c10)">
<rect x="386.5" y="24.4" width="228.1" height="167.9" fill="#003cff"/>
<path d="M617.2 162.1 615.5 162.8 614.0 163.7 612.7 164.7 611.8 165.8 611.0 167.1 610.4 168.5 610.1 169.9 609.8 171.5 609.7 173.1 609.8 174.7 609.8 176.4 610.0 178.2 610.2 179.9 610.4 181.7 610.6 183.4 610.8 185.1 610.9 186.8 611.0 188.4 610.9 189.9 610.7 191.4 610.4 192.7 609.9 194.0 383.5 195.3 383.5 21.4 617.6 21.4Z" fill="#0070ff"/>
<path d="M616.7 136.8 615.9 138.1 615.1 139.4 614.3 140.7 613.7 142.1 613.0 143.5 612.5 144.9 612.0 146.3 611.6 147.8 611.2 149.2 610.9 150.7 610.6 152.2 610.4 153.7 610.2 155.3 610.0 156.8 609.9 158.4 609.8 159.9 609.8 161.5 609.7 163.1 609.7 164.6 609.7 166.2 609.7 167.8 609.8 169.4 609.8 171.0 609.8 172.6 609.9 174.2 610.0 175.7 610.0 177.3 610.1 178.9 610.1 180.5 610.1 182.0 610.1 183.6 610.1 185.1 610.1 186.6 610.1 188.1 610.0 189.6 609.9 191.1 609.8 192.5 609.6 194.0 383.5 195.3 383.5 21.4 617.6 21.4Z" fill="#00a8ff"/>
<path d="M616.8 114.7 615.9 116.0 615.1 117.3 614.2 118.6 613.4 119.9 612.6 121.3 611.9 122.6 611.2 124.0 610.5 125.3 609.8 126.7 609.2 128.1 608.6 129.5 608.0 130.9 607.4 132.3 606.9 133.7 606.4 135.1 605.9 136.5 605.5 138.0 605.1 139.4 604.7 140.9 604.3 142.4 603.9 143.8 603.6 145.3 603.2 146.8 603.0 148.3 602.7 149.8 602.4 151.3 602.2 152.8 602.0 154.3 601.7 155.8 601.6 157.3 601.4 158.8 601.2 160.3 601.1 161.9 601.0 163.4 600.9 164.9 600.8 166.4 600.7 168.0 600.6 169.5 600.6 171.0 600.5 172.6 600.5 174.1 600.5 175.6 600.5 177.2 600.5 178.7 600.5 180.3 600.5 181.8 600.5 183.3 600.6 184.9 600.6 186.4 600.6 187.9 600.7 189.4 600.8 191.0 600.8 192.5 600.9 194.0 383.5 195.3 383.5 21.4 617.6 21.4Z" fill="#00dcfe"/>
<path d="M616.2 91.7 615.6 93.1 615.1 94.5 614.5 95.9 613.9 97.2 613.4 98.6 612.8 100.0 612.2 101.4 611.6 102.8 611.0 104.2 610.4 105.6 609.8 107.1 609.2 108.5 608.6 109.9 608.0 111.3 607.4 112.7 606.8 114.1 606.2 115.5 605.6 116.9 605.0 118.3 604.4 119.7 603.8 121.2 603.2 122.6 602.5 124.0 601.9 125.4 601.3 126.9 600.8 128.3 600.2 129.7 599.6 131.1 599.0 132.6 598.4 134.0 597.8 135.4 597.3 136.9 596.7 138.3 596.2 139.8 595.6 141.2 595.1 142.7 594.6 144.1 594.1 145.6 593.5 147.0 593.1 148.5 592.6 149.9 592.1 151.4 591.6 152.8 591.2 154.3 590.7 155.8 590.3 157.3 589.9 158.7 589.5 160.2 589.1 161.7 588.7 163.2 588.4 164.7 588.0 166.1 587.7 167.6 587.4 169.1 587.1 170.6 586.8 172.1 586.6 173.6 586.3 175.1 586.1 176.6 585.9 178.2 585.7 179.7 585.6 181.2 585.4 182.7 585.3 184.2 585.2 185.8 585.1 187.3 585.1 188.8 585.1 190.4 585.1 191.9 585.1 193.5 383.5 195.3 383.5 21.4 617.6 21.4Z" fill="#26ffd1"/>
<path d="M616.0 60.6 615.6 62.1 615.1 63.5 614.7 64.9 614.2 66.4 613.8 67.8 613.3 69.2 612.8 70.7 612.3 72.1 611.9 73.5 611.4 75.0 610.9 76.4 610.4 77.8 609.9 79.3 609.4 80.7 608.9 82.2 608.4 83.6 607.9 85.0 607.4 86.5 606.9 87.9 606.3 89.3 605.8 90.8 605.3 92.2 604.8 93.6 604.3 95.1 603.8 96.5 603.2 97.9 602.7 99.4 602.2 100.8 601.7 102.3 601.1 103.7 600.6 105.1 600.1 106.6 599.6 108.0 599.1 109.5 598.5 110.9 598.0 112.3 597.5 113.8 597.0 115.2 596.5 116.7 596.0 118.1 595.5 119.6 595.0 121.0 594.5 122.4 594.0 123.9 593.5 125.3 593.0 126.8 592.5 128.2 592.0 129.7 591.5 131.1 591.0 132.6 590.5 134.1 590.1 135.5 589.6 137.0 589.2 138.4 588.7 139.9 588.3 141.3 587.8 142.8 587.4 144.3 586.9 145.7 586.5 147.2 586.1 148.7 585.7 150.1 585.3 151.6 584.9 153.1 584.5 154.5 584.1 156.0 583.7 157.5 583.3 159.0 583.0 160.5 582.6 161.9 582.3 163.4 581.9 164.9 581.6 166.4 581.3 167.9 581.0 169.4 580.7 170.8 580.4 172.3 580.1 173.8 579.8 175.3 579.6 176.8 579.3 178.3 579.1 179.8 578.8 181.3 578.6 182.8 578.4 184.3 578.2 185.9 578.0 187.4 577.9 188.9 577.7 190.4 577.5 191.9 577.4 193.4 383.5 195.3 383.5 21.4 617.6 21.4Z" fill="#50ffa7"/>
<path d="M384.0 25.6 385.7 25.6 387.5 25.6 389.2 25.6 390.9 25.6 392.6 25.6 394.3 25.6 396.0 25.6 397.6 25.6 399.3 25.7 401.0 25.7 402.6 25.7 404.2 25.7 405.9 25.7 407.5 25.7 409.1 25.7 410.7 25.7 412.3 25.7 413.9 25.7 415.5 25.7 417.1 25.7 418.7 25.7 420.2 25.7 421.8 25.7 423.4 25.7 424.9 25.7 426.4 25.7 428.0 25.7 429.5 25.7 431.0 25.7 432.5 25.7 434.1 25.7 435.6 25.7 437.1 25.7 438.6 25.7 440.1 25.7 441.6 25.7 443.0 25.7 444.5 25.7 446.0 25.7 447.5 25.7 448.9 25.7 450.4 25.7 451.9 25.7 453.3 25.7 454.8 25.6 456.2 25.6 457.7 25.6 459.1 25.6 460.5 25.6 462.0 25.6 463.4 25.6 464.9 25.6 466.3 25.6 467.7 25.6 469.1 25.6 470.6 25.6 472.0 25.6 473.4 25.6 474.8 25.6 476.3 25.6 477.7 25.6 479.1 25.6 480.5 25.6 481.9 25.6 483.3 25.6 484.8 25.6 486.2 25.6 487.6 25.6 489.0 25.6 490.4 25.6 491.9 25.7 493.3 25.7 494.7 25.7 496.1 25.7 497.5 25.7 499.0 25.7 500.4 25.7 501.8 25.7 503.2 25.7 504.7 25.7 506.1 25.7 507.5 25.7 509.0 25.7 510.4 25.7 511.8 25.7 513.3 25.7 514.7 25.8 516.2 25.8 517.6 25.8 519.1 25.8 520.5 25.8 522.0 25.8 523.5 25.8 524.9 25.8 526.4 25.9 527.9 25.9 529.4 25.9 530.9 25.9 532.4 25.9 533.8 25.9 535.3 26.0 536.9 26.0 538.4 26.0 539.9 26.0 541.4 26.0 542.9 26.1 544.5 26.1 546.0 26.1 547.6 26.1 549.1 26.2 550.7 26.2 552.2 26.2 553.8 26.2 555.4 26.3 557.0 26.3 558.6 26.3 560.2 26.4 561.8 26.4 563.4 26.4 565.0 26.5 566.6 26.5 568.2 26.6 569.8 26.7 571.4 26.8 573.0 26.9 574.6 27.1 576.2 27.2 577.7 27.4 579.3 27.7 580.8 27.9 582.3 28.2 583.8 28.6 585.3 29.0 586.7 29.4 588.1 29.9 589.5 30.4 590.8 31.0 592.1 31.7 593.4 32.4 594.6 33.2 595.8 34.0 596.9 34.9 598.0 35.8 599.0 36.8 599.9 37.8 600.7 38.9 601.4 40.1 602.0 41.3 602.6 42.6 603.0 43.9 603.4 45.2 603.6 46.6 603.8 48.0 603.9 49.4 604.0 50.9 604.0 52.4 603.9 53.9 603.8 55.4 603.7 56.9 603.5 58.4 603.4 59.9 603.2 61.5 603.0 63.0 602.7 64.5 602.5 66.0 602.3 67.5 602.0 69.0 601.7 70.5 601.4 72.0 601.1 73.5 600.8 75.0 600.5 76.4 600.2 77.9 599.8 79.4 599.5 80.9 599.1 82.3 598.7 83.8 598.3 85.3 597.9 86.7 597.5 88.2 597.1 89.6 596.7 91.1 596.3 92.5 595.9 94.0 595.4 95.4 595.0 96.9 594.6 98.3 594.1 99.8 593.6 101.2 593.2 102.7 592.7 104.1 592.3 105.5 591.8 107.0 591.3 108.4 590.9 109.9 590.4 111.3 589.9 112.7 589.4 114.2 588.9 115.6 588.5 117.0 588.0 118.5 587.5 119.9 587.0 121.3 586.6 122.8 586.1 124.2 585.6 125.6 585.2 127.1 584.7 128.5 584.2 129.9 583.8 131.4 583.3 132.8 582.9 134.2 582.5 135.7 582.0 137.1 581.6 138.6 581.2 140.0 580.8 141.5 580.4 142.9 580.0 144.3 579.6 145.8 579.2 147.2 578.8 148.7 578.4 150.1 578.1 151.6 577.7 153.1 577.4 154.5 577.1 156.0 576.8 157.5 576.5 158.9 576.2 160.4 575.9 161.9 575.6 163.3 575.4 164.8 575.1 166.3 574.9 167.8 574.7 169.3 574.5 170.8 574.3 172.3 574.2 173.8 574.0 175.3 573.9 176.8 573.8 178.3 573.7 179.8 573.6 181.3 573.6 182.9 573.5 184.4 573.5 185.9 573.5 187.5 573.5 189.0 573.6 190.5 573.6 192.1 573.7 193.7 383.5 195.3Z" fill="#7dff7a"/>
<path d="M383.5 36.6 385.2 36.5 387.0 36.5 388.7 36.4 390.4 36.4 392.1 36.3 393.8 36.3 395.4 36.3 397.1 36.2 398.8 36.2 400.4 36.2 402.1 36.1 403.7 36.1 405.3 36.1 406.9 36.0 408.6 36.0 410.2 36.0 411.7 36.0 413.3 36.0 414.9 35.9 416.5 35.9 418.1 35.9 419.6 35.9 421.2 35.9 422.7 35.9 424.3 35.8 425.8 35.8 427.3 35.8 428.9 35.8 430.4 35.8 431.9 35.8 433.4 35.8 434.9 35.8 436.4 35.8 437.9 35.8 439.4 35.8 440.9 35.8 442.3 35.8 443.8 35.8 445.3 35.8 446.7 35.8 448.2 35.8 449.7 35.8 451.1 35.9 452.6 35.9 454.0 35.9 455.5 35.9 456.9 35.9 458.4 35.9 459.8 35.9 461.2 35.9 462.7 36.0 464.1 36.0 465.5 36.0 467.0 36.0 468.4 36.0 469.8 36.1 471.2 36.1 472.7 36.1 474.1 36.1 475.5 36.1 476.9 36.2 478.4 36.2 479.8 36.2 481.2 36.2 482.6 36.3 484.0 36.3 485.5 36.3 486.9 36.3 488.3 36.4 489.7 36.4 491.2 36.4 492.6 36.4 494.0 36.5 495.4 36.5 496.9 36.5 498.3 36.6 499.7 36.6 501.2 36.6 502.6 36.6 504.1 36.7 505.5 36.7 507.0 36.7 508.4 36.8 509.9 36.8 511.3 36.8 512.8 36.9 514.2 36.9 515.7 36.9 517.2 36.9 518.7 37.0 520.1 37.0 521.6 37.0 523.1 37.1 524.6 37.1 526.1 37.1 527.6 37.2 529.1 37.2 530.6 37.2 532.2 37.2 533.7 37.3 535.2 37.3 536.8 37.3 538.3 37.4 539.8 37.4 541.4 37.4 543.0 37.4 544.5 37.5 546.1 37.5 547.7 37.5 549.3 37.5 550.9 37.6 552.5 37.6 554.1 37.6 555.7 37.7 557.3 37.7 558.9 37.8 560.5 37.9 562.1 38.0 563.7 38.1 565.3 38.3 566.8 38.5 568.4 38.8 569.9 39.0 571.4 39.4 572.9 39.8 574.3 40.2 575.7 40.7 577.1 41.3 578.5 41.9 579.8 42.6 581.0 43.4 582.3 44.2 583.4 45.0 584.5 46.0 585.5 47.0 586.4 48.0 587.2 49.1 587.9 50.3 588.6 51.5 589.1 52.7 589.5 54.1 589.9 55.4 590.1 56.8 590.3 58.2 590.5 59.6 590.5 61.1 590.6 62.6 590.5 64.1 590.5 65.6 590.4 67.1 590.2 68.6 590.1 70.2 589.9 71.7 589.8 73.2 589.6 74.7 589.4 76.2 589.2 77.7 589.0 79.3 588.8 80.8 588.5 82.3 588.3 83.8 588.0 85.2 587.7 86.7 587.5 88.2 587.2 89.7 586.9 91.2 586.6 92.7 586.3 94.2 586.0 95.6 585.6 97.1 585.3 98.6 585.0 100.1 584.6 101.6 584.3 103.0 583.9 104.5 583.6 106.0 583.2 107.4 582.9 108.9 582.5 110.4 582.1 111.8 581.8 113.3 581.4 114.8 581.0 116.2 580.6 117.7 580.3 119.1 579.9 120.6 579.5 122.1 579.2 123.5 578.8 125.0 578.4 126.5 578.1 127.9 577.7 129.4 577.3 130.8 577.0 132.3 576.6 133.8 576.3 135.2 575.9 136.7 575.6 138.2 575.3 139.6 574.9 141.1 574.6 142.6 574.3 144.0 574.0 145.5 573.7 147.0 573.4 148.4 573.1 149.9 572.9 151.4 572.6 152.9 572.4 154.3 572.1 155.8 571.9 157.3 571.7 158.8 571.5 160.3 571.3 161.8 571.1 163.2 570.9 164.7 570.8 166.2 570.6 167.7 570.5 169.2 570.4 170.7 570.3 172.2 570.2 173.7 570.1 175.3 570.1 176.8 570.0 178.3 570.0 179.8 570.0 181.3 570.0 182.9 570.1 184.4 570.1 185.9 570.2 187.5 570.3 189.0 570.4 190.6 570.5 192.1 570.7 193.7 383.5 195.3Z" fill="#a7ff50"/>
<path d="M383.5 48.5 385.2 48.5 387.0 48.4 388.7 48.4 390.4 48.3 392.1 48.2 393.8 48.2 395.5 48.1 397.2 48.1 398.9 48.1 400.5 48.0 402.2 48.0 403.8 47.9 405.4 47.9 407.1 47.9 408.7 47.8 410.3 47.8 411.9 47.8 413.5 47.8 415.0 47.8 416.6 47.7 418.2 47.7 419.7 47.7 421.3 47.7 422.8 47.7 424.3 47.7 425.9 47.7 427.4 47.7 428.9 47.7 430.4 47.7 431.9 47.7 433.4 47.7 434.9 47.7 436.4 47.7 437.9 47.7 439.3 47.7 440.8 47.7 442.3 47.7 443.7 47.8 445.2 47.8 446.7 47.8 448.1 47.8 449.6 47.8 451.0 47.8 452.5 47.9 453.9 47.9 455.3 47.9 456.8 47.9 458.2 47.9 459.6 48.0 461.1 48.0 462.5 48.0 463.9 48.0 465.3 48.0 466.8 48.1 468.2 48.1 469.6 48.1 471.0 48.1 472.5 48.2 473.9 48.2 475.3 48.2 476.8 48.2 478.2 48.2 479.6 48.3 481.0 48.3 482.5 48.3 483.9 48.3 485.3 48.3 486.8 48.4 488.2 48.4 489.7 48.4 491.1 48.4 492.6 48.4 494.0 48.4 495.5 48.4 496.9 48.4 498.4 48.5 499.9 48.5 501.3 48.5 502.8 48.5 504.3 48.5 505.8 48.5 507.3 48.5 508.8 48.5 510.3 48.5 511.8 48.5 513.3 48.5 514.8 48.5 516.3 48.5 517.9 48.5 519.4 48.4 520.9 48.4 522.5 48.4 524.1 48.4 525.6 48.4 527.2 48.3 528.8 48.3 530.4 48.3 532.0 48.3 533.6 48.2 535.2 48.2 536.8 48.2 538.4 48.2 540.0 48.2 541.7 48.2 543.3 48.2 544.8 48.3 546.4 48.4 548.0 48.5 549.6 48.6 551.1 48.8 552.6 49.0 554.1 49.2 555.6 49.5 557.1 49.8 558.5 50.2 559.9 50.6 561.3 51.0 562.7 51.5 564.0 52.1 565.3 52.7 566.5 53.4 567.7 54.2 568.9 55.0 570.0 55.8 571.1 56.8 572.1 57.8 573.0 58.8 573.9 59.9 574.8 61.0 575.5 62.2 576.2 63.5 576.8 64.7 577.4 66.1 577.8 67.4 578.2 68.8 578.5 70.3 578.8 71.7 579.0 73.2 579.1 74.7 579.2 76.2 579.3 77.8 579.3 79.3 579.3 80.8 579.2 82.3 579.2 83.9 579.1 85.4 578.9 86.9 578.8 88.4 578.6 89.9 578.5 91.5 578.3 93.0 578.0 94.5 577.8 96.0 577.5 97.5 577.3 99.0 577.0 100.5 576.7 102.0 576.4 103.5 576.1 105.0 575.8 106.5 575.5 108.0 575.2 109.5 574.8 111.0 574.5 112.5 574.2 114.0 573.8 115.5 573.5 117.0 573.2 118.5 572.8 120.0 572.5 121.4 572.2 122.9 571.9 124.4 571.6 125.9 571.3 127.4 571.1 128.9 570.8 130.4 570.6 131.9 570.3 133.4 570.1 134.9 569.9 136.4 569.7 137.8 569.6 139.3 569.4 140.8 569.3 142.3 569.1 143.8 569.0 145.3 568.9 146.8 568.8 148.3 568.7 149.8 568.6 151.3 568.5 152.8 568.4 154.3 568.3 155.8 568.3 157.3 568.2 158.8 568.1 160.3 568.1 161.8 568.0 163.3 568.0 164.8 567.9 166.3 567.8 167.8 567.8 169.3 567.7 170.8 567.7 172.3 567.6 173.8 567.5 175.3 567.4 176.8 567.4 178.4 567.3 179.9 567.2 181.4 567.1 182.9 567.0 184.4 566.9 185.9 566.7 187.4 566.6 189.0 566.4 190.5 566.3 192.0 566.1 193.5 383.5 195.3Z" fill="#d1ff26"/>
<path d="M383.8 59.8 385.4 59.9 387.0 60.1 388.6 60.2 390.2 60.4 391.8 60.5 393.4 60.6 395.0 60.7 396.6 60.8 398.2 60.9 399.8 61.0 401.3 61.1 402.9 61.2 404.5 61.3 406.0 61.4 407.6 61.4 409.1 61.5 410.7 61.5 412.2 61.6 413.8 61.6 415.3 61.7 416.8 61.7 418.3 61.7 419.9 61.7 421.4 61.8 422.9 61.8 424.4 61.8 425.9 61.8 427.4 61.8 428.9 61.8 430.4 61.8 431.9 61.8 433.4 61.8 434.9 61.7 436.4 61.7 437.9 61.7 439.4 61.7 440.8 61.6 442.3 61.6 443.8 61.6 445.3 61.5 446.8 61.5 448.2 61.5 449.7 61.4 451.2 61.4 452.7 61.3 454.1 61.3 455.6 61.2 457.1 61.2 458.6 61.1 460.0 61.0 461.5 61.0 463.0 60.9 464.4 60.9 465.9 60.8 467.4 60.8 468.9 60.7 470.3 60.6 471.8 60.6 473.3 60.5 474.7 60.4 476.2 60.4 477.7 60.3 479.2 60.3 480.7 60.2 482.1 60.1 483.6 60.1 485.1 60.0 486.6 60.0 488.1 59.9 489.6 59.9 491.1 59.8 492.6 59.8 494.1 59.7 495.6 59.7 497.1 59.6 498.6 59.6 500.1 59.6 501.6 59.5 503.1 59.5 504.7 59.4 506.2 59.4 507.7 59.4 509.2 59.4 510.8 59.4 512.3 59.3 513.9 59.3 515.4 59.3 517.0 59.3 518.5 59.3 520.1 59.3 521.6 59.3 523.2 59.3 524.8 59.4 526.4 59.4 528.0 59.4 529.6 59.4 531.2 59.5 532.8 59.5 534.4 59.6 536.0 59.6 537.6 59.7 539.1 59.8 540.7 60.0 542.3 60.1 543.8 60.3 545.3 60.6 546.8 60.8 548.3 61.2 549.7 61.5 551.1 62.0 552.5 62.4 553.8 63.0 555.0 63.6 556.3 64.3 557.4 65.0 558.5 65.8 559.6 66.7 560.6 67.6 561.5 68.6 562.4 69.7 563.3 70.8 564.0 71.9 564.7 73.2 565.4 74.4 565.9 75.7 566.4 77.1 566.9 78.5 567.3 79.9 567.6 81.4 567.9 82.9 568.2 84.4 568.4 85.9 568.6 87.4 568.7 88.9 568.8 90.5 568.9 92.0 568.9 93.5 569.0 95.1 569.0 96.6 569.0 98.1 568.9 99.7 568.9 101.2 568.8 102.7 568.7 104.3 568.6 105.8 568.4 107.3 568.3 108.8 568.1 110.4 567.9 111.9 567.8 113.4 567.6 115.0 567.4 116.5 567.2 118.0 567.0 119.5 566.7 121.0 566.5 122.6 566.3 124.1 566.1 125.6 565.9 127.1 565.6 128.6 565.4 130.2 565.2 131.7 565.0 133.2 564.8 134.7 564.6 136.2 564.5 137.7 564.3 139.2 564.1 140.7 564.0 142.2 563.9 143.8 563.8 145.3 563.7 146.8 563.6 148.3 563.5 149.8 563.5 151.3 563.5 152.8 563.4 154.2 563.4 155.7 563.4 157.2 563.4 158.7 563.4 160.2 563.5 161.7 563.5 163.2 563.5 164.7 563.5 166.2 563.5 167.7 563.6 169.2 563.6 170.7 563.6 172.2 563.6 173.7 563.6 175.2 563.6 176.7 563.6 178.3 563.6 179.8 563.5 181.3 563.5 182.8 563.4 184.3 563.3 185.9 563.2 187.4 563.1 188.9 563.0 190.5 562.8 192.0 562.7 193.6 383.5 195.3Z" fill="#feed00"/>
<path d="M383.8 73.0 385.4 72.9 387.0 72.9 388.6 72.8 390.2 72.8 391.8 72.7 393.4 72.7 395.0 72.6 396.6 72.6 398.1 72.5 399.7 72.5 401.3 72.5 402.8 72.4 404.4 72.4 405.9 72.4 407.4 72.4 409.0 72.3 410.5 72.3 412.1 72.3 413.6 72.3 415.1 72.3 416.6 72.3 418.1 72.2 419.6 72.2 421.2 72.2 422.7 72.2 424.2 72.2 425.7 72.2 427.2 72.2 428.6 72.2 430.1 72.2 431.6 72.2 433.1 72.2 434.6 72.2 436.1 72.2 437.6 72.2 439.0 72.2 440.5 72.2 442.0 72.2 443.5 72.2 444.9 72.2 446.4 72.2 447.9 72.2 449.3 72.2 450.8 72.2 452.3 72.3 453.7 72.3 455.2 72.3 456.7 72.3 458.2 72.3 459.6 72.3 461.1 72.3 462.6 72.3 464.0 72.3 465.5 72.3 467.0 72.3 468.4 72.3 469.9 72.3 471.4 72.3 472.9 72.3 474.3 72.3 475.8 72.3 477.3 72.3 478.8 72.3 480.3 72.3 481.8 72.3 483.2 72.3 484.7 72.3 486.2 72.3 487.7 72.3 489.2 72.2 490.7 72.2 492.2 72.2 493.7 72.2 495.3 72.2 496.8 72.1 498.3 72.1 499.8 72.1 501.3 72.1 502.9 72.0 504.4 72.0 505.9 72.0 507.5 71.9 509.0 71.9 510.6 71.8 512.2 71.8 513.7 71.7 515.3 71.7 516.9 71.6 518.4 71.6 520.0 71.5 521.6 71.5 523.2 71.4 524.8 71.4 526.4 71.4 527.9 71.4 529.5 71.4 531.0 71.5 532.6 71.6 534.1 71.7 535.6 71.9 537.1 72.1 538.5 72.4 539.9 72.7 541.3 73.1 542.7 73.5 544.1 74.1 545.3 74.6 546.6 75.3 547.8 76.0 549.0 76.8 550.1 77.6 551.2 78.5 552.2 79.5 553.1 80.5 554.0 81.6 554.8 82.7 555.6 83.9 556.3 85.2 556.9 86.5 557.5 87.8 558.0 89.1 558.4 90.5 558.8 91.9 559.1 93.4 559.4 94.8 559.7 96.3 559.9 97.8 560.0 99.3 560.1 100.9 560.2 102.4 560.3 104.0 560.3 105.6 560.3 107.1 560.3 108.7 560.3 110.3 560.3 111.9 560.2 113.5 560.1 115.1 560.1 116.7 560.0 118.3 560.0 119.9 559.9 121.4 559.8 123.0 559.8 124.5 559.8 126.1 559.7 127.6 559.7 129.1 559.7 130.6 559.7 132.1 559.6 133.6 559.6 135.1 559.6 136.6 559.6 138.1 559.6 139.6 559.6 141.0 559.6 142.5 559.6 143.9 559.6 145.4 559.6 146.9 559.6 148.3 559.7 149.8 559.7 151.2 559.7 152.7 559.7 154.1 559.7 155.6 559.7 157.0 559.7 158.5 559.8 159.9 559.8 161.4 559.8 162.9 559.8 164.3 559.8 165.8 559.8 167.3 559.8 168.8 559.8 170.2 559.8 171.7 559.8 173.2 559.8 174.7 559.8 176.2 559.8 177.8 559.8 179.3 559.7 180.8 559.7 182.4 559.7 183.9 559.6 185.5 559.6 187.1 559.6 188.7 559.5 190.3 559.4 191.9 559.4 193.5 383.5 195.3Z" fill="#ffbd00"/>
<path d="M383.9 87.2 385.5 87.2 387.0 87.2 388.6 87.3 390.1 87.3 391.6 87.3 393.1 87.3 394.7 87.3 396.2 87.3 397.7 87.3 399.2 87.3 400.8 87.3 402.3 87.3 403.8 87.3 405.3 87.2 406.8 87.2 408.3 87.2 409.9 87.2 411.4 87.1 412.9 87.1 414.4 87.0 415.9 87.0 417.4 87.0 418.9 86.9 420.4 86.9 421.9 86.8 423.4 86.8 424.9 86.7 426.4 86.6 427.9 86.6 429.4 86.5 430.9 86.5 432.4 86.4 433.9 86.3 435.4 86.3 436.8 86.2 438.3 86.1 439.8 86.1 441.3 86.0 442.8 85.9 444.3 85.9 445.8 85.8 447.3 85.7 448.8 85.7 450.3 85.6 451.8 85.5 453.3 85.4 454.8 85.4 456.3 85.3 457.8 85.2 459.2 85.2 460.7 85.1 462.2 85.0 463.7 85.0 465.2 84.9 466.7 84.9 468.2 84.8 469.7 84.7 471.2 84.7 472.7 84.6 474.3 84.6 475.8 84.5 477.3 84.5 478.8 84.4 480.3 84.4 481.8 84.3 483.3 84.3 484.8 84.3 486.3 84.2 487.9 84.2 489.4 84.2 490.9 84.2 492.4 84.1 494.0 84.1 495.5 84.1 497.0 84.1 498.6 84.1 500.1 84.1 501.6 84.1 503.2 84.1 504.7 84.1 506.3 84.1 507.8 84.1 509.4 84.2 510.9 84.2 512.5 84.2 514.0 84.3 515.6 84.3 517.2 84.4 518.7 84.4 520.3 84.5 521.9 84.6 523.4 84.7 525.0 84.8 526.5 84.9 528.0 85.1 529.5 85.3 531.0 85.6 532.4 85.9 533.8 86.3 535.2 86.7 536.5 87.2 537.8 87.8 539.1 88.4 540.2 89.1 541.4 89.9 542.5 90.7 543.5 91.6 544.5 92.6 545.4 93.6 546.2 94.7 547.0 95.8 547.7 97.0 548.4 98.3 549.0 99.6 549.6 100.9 550.1 102.3 550.6 103.7 551.0 105.1 551.4 106.6 551.7 108.1 552.0 109.6 552.3 111.2 552.5 112.7 552.7 114.3 552.9 115.9 553.1 117.5 553.2 119.2 553.3 120.8 553.4 122.4 553.5 124.1 553.6 125.7 553.6 127.3 553.7 128.9 553.7 130.5 553.7 132.1 553.8 133.7 553.8 135.2 553.9 136.8 553.9 138.3 554.0 139.8 554.0 141.3 554.0 142.7 554.1 144.2 554.1 145.7 554.2 147.1 554.2 148.5 554.2 150.0 554.3 151.4 554.3 152.8 554.3 154.2 554.4 155.7 554.4 157.1 554.4 158.5 554.5 159.9 554.5 161.3 554.5 162.7 554.5 164.2 554.5 165.6 554.5 167.0 554.5 168.5 554.6 169.9 554.6 171.4 554.6 172.9 554.5 174.3 554.5 175.8 554.5 177.4 554.5 178.9 554.5 180.4 554.5 182.0 554.4 183.6 554.4 185.2 554.3 186.8 554.3 188.4 554.2 190.1 554.2 191.8 554.1 193.5 383.5 195.3Z" fill="#ff8900"/>
<path d="M383.8 105.7 385.4 105.7 387.0 105.7 388.6 105.6 390.2 105.6 391.8 105.6 393.4 105.5 394.9 105.5 396.5 105.4 398.1 105.4 399.6 105.3 401.2 105.3 402.7 105.2 404.2 105.2 405.8 105.1 407.3 105.1 408.8 105.0 410.3 105.0 411.8 104.9 413.4 104.8 414.9 104.8 416.4 104.7 417.8 104.6 419.3 104.6 420.8 104.5 422.3 104.4 423.8 104.3 425.3 104.3 426.7 104.2 428.2 104.1 429.7 104.0 431.1 103.9 432.6 103.8 434.1 103.8 435.5 103.7 437.0 103.6 438.5 103.5 439.9 103.4 441.4 103.3 442.9 103.2 444.3 103.1 445.8 103.0 447.2 102.9 448.7 102.8 450.2 102.7 451.6 102.5 453.1 102.4 454.6 102.3 456.0 102.2 457.5 102.1 459.0 102.0 460.5 101.9 461.9 101.7 463.4 101.6 464.9 101.5 466.4 101.4 467.9 101.2 469.4 101.1 470.9 101.0 472.4 100.8 473.9 100.7 475.4 100.6 476.9 100.4 478.5 100.3 480.0 100.1 481.5 100.0 483.1 99.8 484.6 99.7 486.2 99.6 487.7 99.4 489.3 99.2 490.9 99.1 492.4 98.9 494.0 98.8 495.6 98.6 497.2 98.5 498.8 98.3 500.4 98.2 502.0 98.0 503.6 97.9 505.3 97.8 506.9 97.7 508.4 97.6 510.0 97.6 511.6 97.5 513.2 97.6 514.7 97.6 516.2 97.7 517.8 97.8 519.2 98.0 520.7 98.2 522.2 98.5 523.6 98.8 525.0 99.1 526.3 99.6 527.6 100.1 528.9 100.6 530.2 101.3 531.4 102.0 532.5 102.7 533.6 103.5 534.7 104.4 535.7 105.3 536.7 106.3 537.5 107.4 538.4 108.5 539.2 109.6 539.9 110.8 540.6 112.1 541.2 113.4 541.8 114.7 542.4 116.1 542.9 117.5 543.4 118.9 543.8 120.4 544.2 121.9 544.6 123.4 544.9 124.9 545.2 126.5 545.5 128.0 545.7 129.6 546.0 131.2 546.2 132.8 546.4 134.4 546.5 136.0 546.6 137.6 546.8 139.3 546.9 140.8 547.0 142.4 547.1 144.0 547.1 145.6 547.2 147.1 547.3 148.6 547.3 150.2 547.4 151.7 547.4 153.2 547.4 154.6 547.5 156.1 547.5 157.6 547.5 159.0 547.5 160.5 547.5 161.9 547.5 163.4 547.6 164.8 547.6 166.3 547.6 167.7 547.5 169.1 547.5 170.6 547.5 172.1 547.5 173.5 547.5 175.0 547.5 176.5 547.5 177.9 547.5 179.4 547.5 181.0 547.5 182.5 547.5 184.0 547.5 185.6 547.5 187.2 547.5 188.7 547.5 190.4 547.5 192.0 547.5 193.7 383.5 195.3Z" fill="#ff5900"/>
<path d="M383.8 132.3 385.4 132.2 387.0 132.2 388.6 132.1 390.2 132.0 391.7 132.0 393.3 131.9 394.9 131.8 396.4 131.7 397.9 131.7 399.5 131.6 401.0 131.5 402.5 131.4 404.1 131.2 405.6 131.1 407.1 131.0 408.6 130.9 410.1 130.8 411.6 130.6 413.1 130.5 414.6 130.3 416.1 130.2 417.6 130.0 419.0 129.9 420.5 129.7 422.0 129.5 423.5 129.4 424.9 129.2 426.4 129.0 427.9 128.8 429.3 128.6 430.8 128.4 432.3 128.2 433.7 128.0 435.2 127.8 436.6 127.5 438.1 127.3 439.6 127.1 441.0 126.8 442.5 126.6 443.9 126.3 445.4 126.0 446.8 125.8 448.3 125.5 449.8 125.2 451.2 124.9 452.7 124.6 454.2 124.3 455.6 124.0 457.1 123.7 458.6 123.4 460.0 123.0 461.5 122.7 463.0 122.4 464.5 122.0 466.0 121.6 467.5 121.3 469.0 120.9 470.5 120.5 472.0 120.2 473.5 119.8 475.0 119.4 476.5 119.0 478.0 118.5 479.6 118.1 481.1 117.7 482.7 117.3 484.2 116.9 485.7 116.4 487.3 116.0 488.8 115.6 490.4 115.2 491.9 114.9 493.5 114.5 495.0 114.2 496.6 113.9 498.1 113.6 499.6 113.3 501.2 113.1 502.7 113.0 504.2 112.8 505.7 112.7 507.2 112.7 508.7 112.7 510.2 112.8 511.7 112.9 513.2 113.0 514.6 113.3 516.1 113.6 517.5 113.9 518.9 114.3 520.2 114.8 521.5 115.4 522.8 116.0 524.0 116.7 525.1 117.5 526.2 118.4 527.3 119.3 528.3 120.3 529.3 121.3 530.2 122.4 531.0 123.6 531.8 124.8 532.6 126.0 533.3 127.3 534.0 128.6 534.7 130.0 535.2 131.4 535.8 132.8 536.3 134.2 536.8 135.7 537.2 137.2 537.6 138.7 538.0 140.3 538.3 141.8 538.6 143.3 538.8 144.9 539.0 146.4 539.2 148.0 539.4 149.5 539.5 151.1 539.6 152.6 539.7 154.2 539.7 155.7 539.8 157.3 539.8 158.8 539.8 160.4 539.8 161.9 539.8 163.4 539.8 165.0 539.8 166.5 539.7 168.0 539.7 169.6 539.7 171.1 539.6 172.6 539.6 174.1 539.6 175.7 539.6 177.2 539.6 178.7 539.6 180.2 539.7 181.7 539.8 183.1 539.8 184.6 539.9 186.1 540.1 187.6 540.2 189.0 540.4 190.5 540.7 191.9 540.9 193.4 383.5 195.3Z" fill="#ff2500"/>
<path d="M384.2 183.4 385.5 182.6 386.8 181.9 388.1 181.2 389.4 180.4 390.7 179.7 392.0 179.0 393.3 178.2 394.6 177.5 395.9 176.7 397.2 175.9 398.5 175.2 399.9 174.4 401.2 173.7 402.5 172.9 403.8 172.1 405.1 171.4 406.4 170.6 407.7 169.8 409.0 169.1 410.3 168.3 411.6 167.5 412.9 166.7 414.3 166.0 415.6 165.2 416.9 164.5 418.2 163.7 419.5 162.9 420.9 162.2 422.2 161.4 423.5 160.7 424.8 159.9 426.2 159.2 427.5 158.4 428.9 157.7 430.2 157.0 431.5 156.2 432.9 155.5 434.2 154.8 435.6 154.1 436.9 153.4 438.3 152.7 439.7 152.0 441.0 151.3 442.4 150.6 443.8 150.0 445.1 149.3 446.5 148.6 447.9 148.0 449.3 147.4 450.7 146.7 452.1 146.1 453.5 145.5 454.9 144.9 456.3 144.3 457.7 143.7 459.1 143.1 460.5 142.6 461.9 142.0 463.3 141.5 464.8 141.0 466.2 140.4 467.6 139.9 469.1 139.5 470.5 139.0 472.0 138.5 473.4 138.1 474.9 137.6 476.4 137.2 477.8 136.8 479.3 136.4 480.8 136.0 482.3 135.6 483.8 135.3 485.3 135.0 486.8 134.6 488.3 134.3 489.8 134.1 491.3 133.8 492.9 133.5 494.4 133.3 495.9 133.1 497.5 132.9 499.0 132.8 500.5 132.7 502.0 132.7 503.5 132.7 504.9 132.7 506.4 132.8 507.8 133.0 509.2 133.2 510.6 133.5 511.9 133.9 513.2 134.4 514.5 135.0 515.7 135.6 516.9 136.3 518.0 137.2 519.1 138.1 520.1 139.0 521.1 140.1 522.1 141.2 523.0 142.4 523.8 143.7 524.6 144.9 525.4 146.3 526.1 147.7 526.7 149.1 527.3 150.5 527.9 152.0 528.4 153.5 528.8 155.0 529.2 156.6 529.6 158.1 529.9 159.7 530.2 161.3 530.5 162.9 530.7 164.5 530.9 166.1 531.1 167.7 531.2 169.3 531.3 170.9 531.4 172.5 531.5 174.1 531.5 175.7 531.6 177.3 531.6 178.9 531.6 180.4 531.6 181.9 531.6 183.4 531.6 184.9 531.6 186.4 531.6 187.8 531.6 189.2 531.6 190.5 531.6 191.8 531.7 193.1 383.5 195.3Z" fill="#da0000"/>
<path d="M432.1 193.4 433.0 192.0 433.9 190.8 434.9 189.6 435.9 188.4 436.9 187.3 438.0 186.2 439.0 185.2 440.2 184.2 441.3 183.2 442.5 182.3 443.6 181.4 444.8 180.5 446.0 179.5 447.3 178.6 448.5 177.7 449.7 176.8 450.9 175.9 452.2 175.0 453.4 174.1 454.7 173.2 455.9 172.3 457.2 171.4 458.5 170.5 459.8 169.6 461.1 168.7 462.4 167.9 463.7 167.0 465.0 166.2 466.4 165.4 467.7 164.6 469.1 163.9 470.4 163.2 471.8 162.5 473.2 161.8 474.7 161.2 476.1 160.6 477.5 160.0 479.0 159.5 480.5 159.0 482.0 158.5 483.5 158.1 485.0 157.8 486.6 157.5 488.1 157.2 489.6 157.0 491.1 156.9 492.7 156.8 494.2 156.7 495.6 156.8 497.1 156.9 498.5 157.1 499.9 157.4 501.3 157.7 502.6 158.1 503.9 158.6 505.2 159.2 506.4 159.9 507.5 160.6 508.6 161.5 509.6 162.4 510.5 163.5 511.4 164.7 512.2 165.9 513.0 167.3 513.6 168.7 514.2 170.2 514.8 171.7 515.3 173.3 515.7 174.9 516.1 176.6 516.5 178.3 516.8 179.9 517.0 181.6 517.3 183.2 517.5 184.9 517.6 186.4 517.8 188.0 517.9 189.4 518.0 190.8 518.0 192.1 518.1 193.3Z" fill="#9b0000"/>
<path d="M594.2 195.0 594.3 163.0 595.5 160.7 597.5 161.0 598.5 164.0 598.5 195.0Z" fill="#00a8ff"/>
<path d="M602.2 195.0 602.4 166.0 603.5 163.0 604.6 164.0 605.0 167.0 605.0 195.0Z" fill="#0070ff"/>
<path d="M586.6 195.0 586.9 184.0 587.7 182.5 588.5 184.0 588.8 195.0Z" fill="#00a8ff"/>
</g>
<path d="M409.39 192.35v-2.0M409.39 24.45v2.0M386.50 175.50h2.0M614.60 175.50h-2.0M422.78 192.35v-2.0M422.78 24.45v2.0M386.50 165.65h2.0M614.60 165.65h-2.0M432.28 192.35v-2.0M432.28 24.45v2.0M386.50 158.65h2.0M614.60 158.65h-2.0M439.65 192.35v-2.0M439.65 24.45v2.0M386.50 153.23h2.0M614.60 153.23h-2.0M445.67 192.35v-2.0M445.67 24.45v2.0M386.50 148.80h2.0M614.60 148.80h-2.0M450.76 192.35v-2.0M450.76 24.45v2.0M386.50 145.05h2.0M614.60 145.05h-2.0M455.16 192.35v-2.0M455.16 24.45v2.0M386.50 141.81h2.0M614.60 141.81h-2.0M459.05 192.35v-2.0M459.05 24.45v2.0M386.50 138.94h2.0M614.60 138.94h-2.0M462.53 192.35v-4.0M462.53 24.45v4.0M386.50 136.38h4.0M614.60 136.38h-4.0M485.42 192.35v-2.0M485.42 24.45v2.0M386.50 119.54h2.0M614.60 119.54h-2.0M498.81 192.35v-2.0M498.81 24.45v2.0M386.50 109.68h2.0M614.60 109.68h-2.0M508.31 192.35v-2.0M508.31 24.45v2.0M386.50 102.69h2.0M614.60 102.69h-2.0M515.68 192.35v-2.0M515.68 24.45v2.0M386.50 97.26h2.0M614.60 97.26h-2.0M521.70 192.35v-2.0M521.70 24.45v2.0M386.50 92.83h2.0M614.60 92.83h-2.0M526.79 192.35v-2.0M526.79 24.45v2.0M386.50 89.09h2.0M614.60 89.09h-2.0M531.20 192.35v-2.0M531.20 24.45v2.0M386.50 85.84h2.0M614.60 85.84h-2.0M535.09 192.35v-2.0M535.09 24.45v2.0M386.50 82.98h2.0M614.60 82.98h-2.0M538.57 192.35v-4.0M538.57 24.45v4.0M386.50 80.42h4.0M614.60 80.42h-4.0M561.45 192.35v-2.0M561.45 24.45v2.0M386.50 63.57h2.0M614.60 63.57h-2.0M574.84 192.35v-2.0M574.84 24.45v2.0M386.50 53.71h2.0M614.60 53.71h-2.0M584.34 192.35v-2.0M584.34 24.45v2.0M386.50 46.72h2.0M614.60 46.72h-2.0M591.71 192.35v-2.0M591.71 24.45v2.0M386.50 41.30h2.0M614.60 41.30h-2.0M597.73 192.35v-2.0M597.73 24.45v2.0M386.50 36.87h2.0M614.60 36.87h-2.0M602.82 192.35v-2.0M602.82 24.45v2.0M386.50 33.12h2.0M614.60 33.12h-2.0M607.23 192.35v-2.0M607.23 24.45v2.0M386.50 29.87h2.0M614.60 29.87h-2.0M611.12 192.35v-2.0M611.12 24.45v2.0M386.50 27.01h2.0M614.60 27.01h-2.0" stroke="#000" stroke-width="0.9" fill="none"/>
<rect x="386.50" y="24.45" width="228.10" height="167.90" fill="none" stroke="#000" stroke-width="1.0"/>
<text transform="translate(359.27 27.74) scale(1.056 1)" font-size="10.99" fill="#000">10</text>
<rect x="373.20" y="21.47" width="4.80" height="0.85" fill="#000"/>
<text transform="translate(378.44 23.77) scale(1.091 1)" font-size="8.21" fill="#000">5</text>
<text transform="translate(359.27 83.71) scale(1.056 1)" font-size="10.99" fill="#000">10</text>
<rect x="373.20" y="77.44" width="4.80" height="0.85" fill="#000"/>
<text transform="translate(378.33 79.74) scale(1.154 1)" font-size="8.10" fill="#000">6</text>
<text transform="translate(359.27 139.67) scale(1.056 1)" font-size="10.99" fill="#000">10</text>
<rect x="373.20" y="133.41" width="4.80" height="0.85" fill="#000"/>
<text transform="translate(378.33 135.78) scale(1.122 1)" font-size="8.33" fill="#000">7</text>
<text transform="translate(359.27 195.64) scale(1.056 1)" font-size="10.99" fill="#000">10</text>
<rect x="373.20" y="189.37" width="4.80" height="0.85" fill="#000"/>
<text transform="translate(378.43 191.67) scale(1.130 1)" font-size="8.10" fill="#000">8</text>
<text transform="translate(373.86 203.74) scale(1.065 1)" font-size="10.99" fill="#000">10</text>
<rect x="387.80" y="196.87" width="4.90" height="0.85" fill="#000"/>
<text transform="translate(393.03 199.82) scale(1.117 1)" font-size="8.38" fill="#000">8</text>
<text transform="translate(449.90 203.74) scale(1.065 1)" font-size="10.99" fill="#000">10</text>
<rect x="463.83" y="196.87" width="4.90" height="0.85" fill="#000"/>
<text transform="translate(468.96 199.90) scale(1.109 1)" font-size="8.62" fill="#000">7</text>
<text transform="translate(525.93 203.74) scale(1.065 1)" font-size="10.99" fill="#000">10</text>
<rect x="539.87" y="196.87" width="4.90" height="0.85" fill="#000"/>
<text transform="translate(544.99 199.82) scale(1.141 1)" font-size="8.38" fill="#000">6</text>
<text transform="translate(601.96 203.74) scale(1.065 1)" font-size="10.99" fill="#000">10</text>
<rect x="615.90" y="196.87" width="4.90" height="0.85" fill="#000"/>
<text transform="translate(621.13 199.81) scale(1.078 1)" font-size="8.50" fill="#000">5</text>
<rect x="629.00" y="24.45" width="8.50" height="9.14" fill="#9b0000"/>
<rect x="629.00" y="33.29" width="8.50" height="9.14" fill="#da0000"/>
<rect x="629.00" y="42.12" width="8.50" height="9.14" fill="#ff2500"/>
<rect x="629.00" y="50.96" width="8.50" height="9.14" fill="#ff5900"/>
<rect x="629.00" y="59.80" width="8.50" height="9.14" fill="#ff8900"/>
<rect x="629.00" y="68.63" width="8.50" height="9.14" fill="#ffbd00"/>
<rect x="629.00" y="77.47" width="8.50" height="9.14" fill="#feed00"/>
<rect x="629.00" y="86.31" width="8.50" height="9.14" fill="#d1ff26"/>
<rect x="629.00" y="95.14" width="8.50" height="9.14" fill="#a7ff50"/>
<rect x="629.00" y="103.98" width="8.50" height="9.14" fill="#7dff7a"/>
<rect x="629.00" y="112.82" width="8.50" height="9.14" fill="#50ffa7"/>
<rect x="629.00" y="121.66" width="8.50" height="9.14" fill="#26ffd1"/>
<rect x="629.00" y="130.49" width="8.50" height="9.14" fill="#00dcfe"/>
<rect x="629.00" y="139.33" width="8.50" height="9.14" fill="#00a8ff"/>
<rect x="629.00" y="148.17" width="8.50" height="9.14" fill="#0070ff"/>
<rect x="629.00" y="157.00" width="8.50" height="9.14" fill="#003cff"/>
<rect x="629.00" y="165.84" width="8.50" height="9.14" fill="#0004ff"/>
<rect x="629.00" y="174.68" width="8.50" height="9.14" fill="#0000da"/>
<rect x="629.00" y="183.51" width="8.50" height="8.84" fill="#00009b"/>
<rect x="629.00" y="24.45" width="8.50" height="167.90" fill="none" stroke="#000" stroke-width="1.1"/>
<text transform="translate(639.77 36.88) scale(1.084 1)" font-size="10.70" fill="#000">10</text>
<rect x="653.60" y="30.22" width="4.90" height="0.85" fill="#000"/>
<text transform="translate(659.50 33.24) scale(0.987 1)" font-size="8.14" fill="#000">21</text>
<text transform="translate(639.77 82.91) scale(1.084 1)" font-size="10.70" fill="#000">10</text>
<rect x="653.60" y="76.24" width="4.90" height="0.85" fill="#000"/>
<text transform="translate(659.50 79.19) scale(1.001 1)" font-size="8.03" fill="#000">23</text>
<text transform="translate(639.77 128.93) scale(1.084 1)" font-size="10.70" fill="#000">10</text>
<rect x="653.60" y="122.27" width="4.90" height="0.85" fill="#000"/>
<text transform="translate(659.50 125.21) scale(0.992 1)" font-size="8.03" fill="#000">25</text>
<text transform="translate(639.77 174.96) scale(1.084 1)" font-size="10.70" fill="#000">10</text>
<rect x="653.60" y="168.29" width="4.90" height="0.85" fill="#000"/>
<text transform="translate(659.50 171.32) scale(0.987 1)" font-size="8.14" fill="#000">27</text>
<path d="M637.50 33.24h-4M637.50 79.27h-4M637.50 125.29h-4M637.50 171.32h-4" stroke="#000" stroke-width="0.9"/>
<text transform="translate(477.21 13.25) scale(0.943 1)" font-size="13.58" font-style="italic" fill="#000">x</text>
<text transform="translate(484.65 15.15) scale(1.122 1)" font-size="9.59" fill="#000">kd</text>
<text transform="translate(499.02 12.71) scale(1.605 1)" font-size="10.94" fill="#000">=</text>
<text transform="translate(513.38 12.96) scale(1.075 1)" font-size="12.11" fill="#000">∞</text>
<path d="M584.00 5.40L581.90 10.00L584.00 14.60" stroke="#000" stroke-width="0.9" fill="none"/>
<path d="M627.10 5.40L629.20 10.00L627.10 14.60" stroke="#000" stroke-width="0.9" fill="none"/>
<text class="ns" transform="translate(585.05 13.39) scale(1.089 1)" font-size="10.56" font-style="italic" fill="#000">σ</text>
<text class="ns" transform="translate(592.73 15.01) scale(1.029 1)" font-size="8.91" fill="#000">ann</text>
<text class="ns" transform="translate(607.14 13.50) scale(1.186 1)" font-size="11.13" font-style="italic" fill="#000">v</text>
<text class="ns" transform="translate(614.90 15.01) scale(1.123 1)" font-size="8.90" fill="#000">rel</text>
<path d="M634.30 5.00H632.00V14.60H634.30" stroke="#000" stroke-width="0.95" fill="none"/>
<text class="ns" transform="translate(635.36 13.19) scale(1.280 1)" font-size="10.55" fill="#000">cm</text>
<text class="ns" transform="translate(653.05 7.83) scale(1.239 1)" font-size="7.04" fill="#000">3</text>
<text class="ns" transform="translate(662.55 13.19) scale(1.103 1)" font-size="10.55" fill="#000">s</text>
<text class="ns" transform="translate(669.12 8.70) scale(1.474 1)" font-size="6.52" fill="#000">−1</text>
<path d="M681.90 5.00H684.20V14.60H681.90" stroke="#000" stroke-width="0.95" fill="none"/>
<g clip-path="url(#c11)">
<rect x="386.5" y="226.2" width="228.1" height="167.9" fill="#003cff"/>
<path d="M616.4 315.7 615.8 317.0 615.2 318.3 614.5 319.7 613.9 321.0 613.2 322.4 612.6 323.7 611.9 325.1 611.2 326.4 610.6 327.8 609.9 329.2 609.2 330.5 608.6 331.9 607.9 333.3 607.2 334.7 606.6 336.1 605.9 337.5 605.3 338.9 604.6 340.3 604.0 341.7 603.3 343.1 602.7 344.5 602.1 345.9 601.5 347.3 600.9 348.7 600.3 350.2 599.7 351.6 599.2 353.0 598.6 354.5 598.1 355.9 597.6 357.3 597.1 358.8 596.6 360.2 596.2 361.7 595.8 363.1 595.4 364.6 595.0 366.1 594.6 367.5 594.3 369.0 594.0 370.5 593.7 372.0 593.5 373.5 593.3 375.0 593.1 376.5 592.9 378.0 592.8 379.5 592.7 381.0 592.7 382.5 592.6 384.1 592.6 385.6 592.7 387.1 592.7 388.7 592.9 390.2 593.0 391.8 593.2 393.4 593.4 394.9 593.6 396.5 383.5 397.1 383.5 223.2 617.6 223.2Z" fill="#0070ff"/>
<path d="M617.2 300.2 616.4 301.4 615.5 302.7 614.7 303.9 613.9 305.2 613.1 306.5 612.3 307.8 611.5 309.1 610.7 310.4 609.9 311.7 609.1 313.0 608.3 314.3 607.6 315.6 606.8 316.9 606.0 318.3 605.3 319.6 604.5 320.9 603.8 322.3 603.1 323.6 602.4 325.0 601.6 326.3 600.9 327.7 600.3 329.1 599.6 330.4 598.9 331.8 598.2 333.2 597.6 334.6 596.9 336.0 596.3 337.3 595.7 338.7 595.1 340.2 594.5 341.6 593.9 343.0 593.4 344.4 592.8 345.8 592.3 347.2 591.8 348.7 591.2 350.1 590.8 351.5 590.3 353.0 589.8 354.4 589.4 355.9 588.9 357.3 588.5 358.8 588.1 360.3 587.8 361.7 587.4 363.2 587.1 364.7 586.7 366.2 586.4 367.6 586.1 369.1 585.9 370.6 585.6 372.1 585.4 373.6 585.2 375.1 585.0 376.6 584.8 378.1 584.7 379.7 584.6 381.2 584.5 382.7 584.4 384.2 584.4 385.7 584.3 387.3 584.3 388.8 584.3 390.4 584.4 391.9 584.4 393.5 584.5 395.0 584.7 396.6 383.5 397.1 383.5 223.2 617.6 223.2Z" fill="#00a8ff"/>
<path d="M616.2 281.4 615.5 282.7 614.8 284.0 614.1 285.3 613.4 286.6 612.7 287.9 612.0 289.2 611.2 290.6 610.5 291.9 609.8 293.2 609.1 294.5 608.3 295.9 607.6 297.2 606.9 298.5 606.2 299.9 605.5 301.2 604.7 302.5 604.0 303.9 603.3 305.2 602.6 306.6 601.9 307.9 601.2 309.3 600.4 310.6 599.7 312.0 599.0 313.4 598.3 314.7 597.7 316.1 597.0 317.5 596.3 318.9 595.6 320.2 595.0 321.6 594.3 323.0 593.6 324.4 593.0 325.8 592.4 327.2 591.7 328.6 591.1 330.0 590.5 331.4 589.9 332.8 589.3 334.2 588.7 335.6 588.1 337.0 587.6 338.5 587.0 339.9 586.5 341.3 586.0 342.7 585.4 344.2 584.9 345.6 584.4 347.1 584.0 348.5 583.5 349.9 583.1 351.4 582.6 352.9 582.2 354.3 581.8 355.8 581.4 357.2 581.0 358.7 580.7 360.2 580.3 361.6 580.0 363.1 579.7 364.6 579.4 366.1 579.1 367.6 578.9 369.1 578.6 370.6 578.4 372.1 578.2 373.6 578.0 375.1 577.9 376.6 577.7 378.1 577.6 379.6 577.5 381.1 577.4 382.7 577.4 384.2 577.3 385.7 577.3 387.3 577.3 388.8 577.4 390.4 577.4 391.9 577.5 393.5 577.6 395.0 577.8 396.6 383.5 397.1 383.5 223.2 617.6 223.2Z" fill="#00dcfe"/>
<path d="M616.1 254.3 615.1 255.4 614.3 256.5 613.4 257.7 612.7 258.9 611.9 260.2 611.2 261.5 610.5 262.8 609.8 264.1 609.2 265.4 608.6 266.8 608.0 268.2 607.3 269.5 606.7 270.9 606.1 272.3 605.5 273.7 605.0 275.1 604.4 276.5 603.8 277.9 603.2 279.3 602.6 280.7 602.1 282.1 601.5 283.5 601.0 285.0 600.4 286.4 599.8 287.8 599.3 289.3 598.7 290.7 598.2 292.1 597.6 293.6 597.1 295.0 596.5 296.4 596.0 297.9 595.4 299.3 594.9 300.8 594.4 302.2 593.8 303.6 593.3 305.1 592.7 306.5 592.2 308.0 591.6 309.4 591.1 310.8 590.5 312.3 590.0 313.7 589.5 315.1 588.9 316.6 588.4 318.0 587.8 319.4 587.3 320.9 586.7 322.3 586.2 323.7 585.7 325.2 585.1 326.6 584.6 328.0 584.1 329.5 583.6 330.9 583.0 332.3 582.5 333.8 582.0 335.2 581.5 336.6 581.1 338.1 580.6 339.5 580.1 340.9 579.6 342.4 579.2 343.8 578.7 345.3 578.3 346.7 577.9 348.2 577.5 349.6 577.1 351.1 576.7 352.5 576.3 354.0 575.9 355.5 575.6 356.9 575.2 358.4 574.9 359.9 574.6 361.3 574.3 362.8 574.0 364.3 573.7 365.8 573.5 367.3 573.3 368.8 573.0 370.3 572.8 371.8 572.7 373.3 572.5 374.8 572.4 376.4 572.2 377.9 572.1 379.4 572.0 381.0 572.0 382.5 571.9 384.1 571.9 385.6 571.9 387.2 571.9 388.7 572.0 390.3 572.0 391.9 572.1 393.5 572.2 395.1 572.4 396.7 383.5 397.1 383.5 223.2 617.6 223.2Z" fill="#26ffd1"/>
<path d="M581.5 223.6 582.6 224.4 583.8 225.1 585.1 225.8 586.4 226.5 587.8 227.1 589.1 227.8 590.5 228.6 591.8 229.3 593.1 230.2 594.3 231.1 595.4 232.1 596.3 233.2 597.2 234.3 597.9 235.6 598.6 236.9 599.1 238.3 599.6 239.7 600.0 241.2 600.3 242.6 600.6 244.1 600.8 245.5 600.9 247.0 601.0 248.4 601.0 249.9 601.0 251.3 600.9 252.8 600.7 254.2 600.5 255.7 600.3 257.1 600.1 258.6 599.8 260.1 599.4 261.5 599.1 263.0 598.7 264.4 598.3 265.9 597.8 267.4 597.3 268.8 596.9 270.3 596.4 271.7 595.9 273.2 595.3 274.6 594.8 276.1 594.3 277.5 593.8 279.0 593.2 280.4 592.7 281.9 592.2 283.3 591.6 284.8 591.1 286.2 590.6 287.7 590.1 289.1 589.6 290.6 589.0 292.0 588.5 293.5 588.0 294.9 587.5 296.3 587.0 297.8 586.5 299.2 586.0 300.7 585.5 302.1 585.0 303.5 584.5 305.0 584.0 306.4 583.6 307.9 583.1 309.3 582.6 310.7 582.2 312.2 581.7 313.6 581.2 315.1 580.8 316.5 580.3 317.9 579.9 319.4 579.5 320.8 579.0 322.3 578.6 323.7 578.2 325.2 577.8 326.6 577.4 328.1 577.0 329.5 576.6 330.9 576.2 332.4 575.8 333.8 575.4 335.3 575.1 336.8 574.7 338.2 574.4 339.7 574.0 341.1 573.7 342.6 573.4 344.0 573.1 345.5 572.7 347.0 572.4 348.4 572.1 349.9 571.9 351.4 571.6 352.8 571.3 354.3 571.1 355.8 570.8 357.3 570.6 358.7 570.4 360.2 570.1 361.7 569.9 363.2 569.7 364.7 569.5 366.2 569.4 367.7 569.2 369.2 569.0 370.6 568.9 372.1 568.8 373.7 568.6 375.2 568.5 376.7 568.4 378.2 568.3 379.7 568.3 381.2 568.2 382.7 568.1 384.3 568.1 385.8 568.1 387.3 568.0 388.9 568.0 390.4 568.1 391.9 568.1 393.5 568.1 395.0 568.2 396.6 383.5 397.1 383.5 223.2Z" fill="#50ffa7"/>
<path d="M383.8 235.9 385.4 235.9 387.0 235.9 388.5 235.8 390.1 235.8 391.7 235.8 393.3 235.8 394.9 235.7 396.4 235.7 398.0 235.7 399.5 235.7 401.1 235.7 402.6 235.6 404.2 235.6 405.7 235.6 407.3 235.6 408.8 235.6 410.3 235.6 411.8 235.6 413.4 235.5 414.9 235.5 416.4 235.5 417.9 235.5 419.4 235.5 420.9 235.5 422.4 235.5 423.9 235.5 425.4 235.5 426.9 235.5 428.4 235.5 429.9 235.5 431.4 235.5 432.9 235.5 434.3 235.5 435.8 235.5 437.3 235.5 438.8 235.5 440.3 235.5 441.7 235.5 443.2 235.6 444.7 235.6 446.1 235.6 447.6 235.6 449.1 235.6 450.5 235.6 452.0 235.6 453.5 235.6 454.9 235.6 456.4 235.7 457.9 235.7 459.3 235.7 460.8 235.7 462.3 235.7 463.7 235.7 465.2 235.8 466.7 235.8 468.1 235.8 469.6 235.8 471.0 235.8 472.5 235.8 474.0 235.9 475.4 235.9 476.9 235.9 478.4 235.9 479.8 235.9 481.3 236.0 482.8 236.0 484.3 236.0 485.7 236.0 487.2 236.0 488.7 236.1 490.2 236.1 491.7 236.1 493.1 236.1 494.6 236.1 496.1 236.2 497.6 236.2 499.1 236.2 500.6 236.2 502.1 236.3 503.6 236.3 505.1 236.3 506.6 236.3 508.1 236.3 509.6 236.4 511.1 236.4 512.7 236.4 514.2 236.4 515.7 236.4 517.3 236.5 518.8 236.5 520.3 236.5 521.9 236.5 523.4 236.5 525.0 236.5 526.5 236.6 528.1 236.6 529.6 236.6 531.2 236.6 532.8 236.6 534.4 236.6 536.0 236.7 537.5 236.7 539.1 236.7 540.7 236.7 542.3 236.7 543.9 236.7 545.6 236.7 547.2 236.8 548.8 236.8 550.4 236.8 552.0 236.9 553.6 237.0 555.2 237.1 556.7 237.2 558.3 237.3 559.8 237.5 561.4 237.7 562.9 238.0 564.3 238.3 565.8 238.6 567.2 239.0 568.6 239.4 570.0 239.9 571.3 240.4 572.6 241.0 573.9 241.7 575.1 242.4 576.3 243.2 577.4 244.0 578.5 244.9 579.5 245.9 580.4 246.9 581.3 248.0 582.1 249.2 582.8 250.3 583.5 251.6 584.0 252.8 584.5 254.2 584.8 255.5 585.0 256.9 585.2 258.3 585.2 259.8 585.2 261.2 585.1 262.7 585.0 264.2 584.8 265.7 584.6 267.2 584.4 268.7 584.1 270.3 583.9 271.8 583.6 273.3 583.4 274.8 583.1 276.3 582.8 277.8 582.5 279.3 582.2 280.8 581.9 282.3 581.6 283.8 581.3 285.2 581.0 286.7 580.6 288.2 580.3 289.7 580.0 291.2 579.6 292.7 579.3 294.1 578.9 295.6 578.6 297.1 578.2 298.6 577.8 300.0 577.5 301.5 577.1 303.0 576.7 304.4 576.4 305.9 576.0 307.4 575.6 308.8 575.3 310.3 574.9 311.8 574.5 313.2 574.1 314.7 573.8 316.2 573.4 317.6 573.0 319.1 572.7 320.5 572.3 322.0 571.9 323.5 571.6 324.9 571.2 326.4 570.9 327.8 570.5 329.3 570.2 330.8 569.9 332.2 569.5 333.7 569.2 335.2 568.9 336.6 568.6 338.1 568.3 339.6 568.0 341.0 567.7 342.5 567.4 344.0 567.1 345.4 566.8 346.9 566.6 348.4 566.3 349.9 566.1 351.3 565.9 352.8 565.6 354.3 565.4 355.8 565.2 357.2 565.0 358.7 564.9 360.2 564.7 361.7 564.5 363.2 564.4 364.7 564.3 366.2 564.2 367.7 564.0 369.2 564.0 370.7 563.9 372.2 563.8 373.7 563.8 375.2 563.8 376.7 563.7 378.2 563.7 379.7 563.8 381.3 563.8 382.8 563.8 384.3 563.9 385.8 564.0 387.4 564.1 388.9 564.2 390.5 564.4 392.0 564.5 393.6 564.7 395.1 564.9 396.7 383.5 397.1Z" fill="#7dff7a"/>
<path d="M384.0 248.4 385.5 248.6 387.0 248.7 388.5 248.9 390.1 249.0 391.6 249.1 393.1 249.2 394.6 249.3 396.1 249.4 397.7 249.5 399.2 249.6 400.7 249.6 402.2 249.7 403.7 249.8 405.2 249.8 406.7 249.9 408.3 249.9 409.8 249.9 411.3 249.9 412.8 250.0 414.3 250.0 415.8 250.0 417.3 250.0 418.8 250.0 420.3 250.0 421.8 250.0 423.3 249.9 424.8 249.9 426.3 249.9 427.8 249.9 429.3 249.8 430.9 249.8 432.4 249.7 433.9 249.7 435.4 249.6 436.9 249.6 438.4 249.5 439.9 249.5 441.4 249.4 442.9 249.4 444.4 249.3 445.9 249.2 447.4 249.2 448.9 249.1 450.4 249.0 451.8 249.0 453.3 248.9 454.8 248.8 456.3 248.8 457.8 248.7 459.3 248.6 460.8 248.6 462.3 248.5 463.8 248.4 465.3 248.4 466.8 248.3 468.3 248.2 469.8 248.2 471.3 248.1 472.8 248.0 474.3 248.0 475.8 247.9 477.3 247.9 478.8 247.8 480.3 247.8 481.8 247.8 483.3 247.7 484.8 247.7 486.3 247.6 487.8 247.6 489.3 247.6 490.8 247.6 492.3 247.6 493.8 247.6 495.3 247.6 496.8 247.6 498.3 247.6 499.8 247.6 501.3 247.6 502.8 247.6 504.4 247.6 505.9 247.7 507.4 247.7 508.9 247.8 510.4 247.8 511.9 247.9 513.4 248.0 514.9 248.0 516.4 248.1 517.9 248.2 519.5 248.3 521.0 248.4 522.5 248.6 524.0 248.7 525.5 248.8 527.0 249.0 528.6 249.1 530.1 249.3 531.6 249.5 533.1 249.7 534.6 249.8 536.2 250.1 537.7 250.3 539.2 250.5 540.8 250.7 542.3 251.0 543.8 251.2 545.3 251.5 546.9 251.8 548.4 252.1 549.9 252.4 551.5 252.7 553.0 253.1 554.5 253.4 556.0 253.8 557.5 254.2 558.9 254.7 560.3 255.2 561.6 255.8 562.9 256.4 564.1 257.2 565.2 257.9 566.2 258.8 567.1 259.7 567.9 260.8 568.6 261.9 569.2 263.2 569.6 264.5 570.0 265.9 570.3 267.4 570.6 268.8 570.8 270.4 570.9 271.9 571.0 273.4 571.1 274.9 571.1 276.5 571.1 278.0 571.1 279.5 571.0 281.0 571.0 282.5 570.9 284.0 570.7 285.5 570.6 287.1 570.4 288.6 570.2 290.1 570.0 291.6 569.8 293.1 569.6 294.6 569.3 296.1 569.1 297.6 568.8 299.1 568.5 300.6 568.2 302.1 567.9 303.6 567.6 305.1 567.3 306.6 567.0 308.1 566.7 309.6 566.4 311.1 566.1 312.6 565.8 314.1 565.5 315.6 565.2 317.1 564.9 318.6 564.6 320.0 564.3 321.5 564.1 323.0 563.8 324.5 563.6 326.0 563.4 327.5 563.2 329.0 563.0 330.5 562.8 332.0 562.6 333.5 562.4 335.0 562.2 336.4 562.1 337.9 561.9 339.4 561.8 340.9 561.6 342.4 561.5 343.9 561.4 345.4 561.3 346.9 561.2 348.4 561.1 349.9 561.0 351.3 560.9 352.8 560.8 354.3 560.7 355.8 560.7 357.3 560.6 358.8 560.5 360.3 560.5 361.8 560.4 363.3 560.3 364.8 560.3 366.3 560.2 367.8 560.2 369.3 560.1 370.8 560.1 372.3 560.1 373.8 560.0 375.3 560.0 376.8 559.9 378.3 559.9 379.8 559.8 381.4 559.8 382.9 559.8 384.4 559.7 385.9 559.7 387.4 559.6 388.9 559.6 390.4 559.5 392.0 559.5 393.5 559.4 395.0 559.3 396.5 383.5 397.1Z" fill="#a7ff50"/>
<path d="M383.9 263.1 385.4 263.0 387.0 262.9 388.6 262.8 390.2 262.7 391.7 262.6 393.3 262.5 394.8 262.5 396.4 262.4 397.9 262.4 399.5 262.3 401.0 262.3 402.5 262.3 404.1 262.2 405.6 262.2 407.1 262.2 408.6 262.2 410.2 262.2 411.7 262.2 413.2 262.2 414.7 262.2 416.2 262.2 417.7 262.2 419.2 262.2 420.7 262.2 422.2 262.2 423.7 262.2 425.2 262.3 426.7 262.3 428.1 262.3 429.6 262.4 431.1 262.4 432.6 262.4 434.1 262.5 435.6 262.5 437.0 262.5 438.5 262.6 440.0 262.6 441.5 262.7 443.0 262.7 444.4 262.8 445.9 262.8 447.4 262.8 448.9 262.9 450.4 262.9 451.8 263.0 453.3 263.0 454.8 263.0 456.3 263.1 457.8 263.1 459.2 263.2 460.7 263.2 462.2 263.2 463.7 263.3 465.2 263.3 466.7 263.3 468.2 263.3 469.7 263.4 471.2 263.4 472.7 263.4 474.2 263.4 475.7 263.4 477.2 263.4 478.7 263.4 480.2 263.4 481.7 263.4 483.2 263.4 484.8 263.4 486.3 263.4 487.8 263.3 489.3 263.3 490.9 263.3 492.4 263.2 494.0 263.2 495.5 263.1 497.1 263.1 498.6 263.0 500.2 262.9 501.8 262.8 503.3 262.8 504.9 262.7 506.5 262.6 508.1 262.5 509.6 262.4 511.2 262.4 512.8 262.3 514.4 262.2 515.9 262.2 517.5 262.2 519.1 262.2 520.6 262.2 522.2 262.2 523.7 262.2 525.3 262.3 526.8 262.4 528.3 262.5 529.8 262.7 531.3 262.9 532.8 263.1 534.3 263.3 535.8 263.6 537.2 263.9 538.6 264.3 540.1 264.7 541.5 265.2 542.9 265.7 544.2 266.3 545.5 266.9 546.8 267.5 548.1 268.2 549.3 269.0 550.4 269.9 551.5 270.8 552.5 271.7 553.4 272.8 554.2 273.9 555.0 275.1 555.7 276.3 556.3 277.6 556.9 278.9 557.4 280.3 557.8 281.7 558.2 283.1 558.5 284.5 558.8 286.0 559.1 287.5 559.3 288.9 559.5 290.4 559.6 291.9 559.7 293.4 559.8 294.9 559.8 296.4 559.8 297.9 559.8 299.4 559.8 300.9 559.7 302.5 559.6 304.0 559.5 305.5 559.4 307.1 559.3 308.6 559.1 310.2 558.9 311.7 558.8 313.2 558.6 314.8 558.4 316.3 558.2 317.9 558.0 319.4 557.8 321.0 557.5 322.5 557.3 324.1 557.1 325.6 556.9 327.2 556.7 328.7 556.5 330.2 556.4 331.8 556.2 333.3 556.0 334.8 555.9 336.3 555.8 337.9 555.7 339.4 555.6 340.9 555.5 342.4 555.4 343.9 555.4 345.4 555.3 346.9 555.3 348.3 555.3 349.8 555.2 351.3 555.2 352.8 555.2 354.3 555.2 355.8 555.2 357.2 555.2 358.7 555.3 360.2 555.3 361.7 555.3 363.2 555.3 364.6 555.4 366.1 555.4 367.6 555.4 369.1 555.4 370.6 555.5 372.1 555.5 373.6 555.5 375.1 555.5 376.6 555.5 378.1 555.5 379.6 555.5 381.1 555.5 382.6 555.5 384.2 555.5 385.7 555.5 387.2 555.4 388.8 555.4 390.3 555.3 391.9 555.2 393.5 555.1 395.0 555.0 396.6 383.5 397.1Z" fill="#d1ff26"/>
<path d="M384.0 278.8 385.5 278.6 387.0 278.4 388.6 278.3 390.1 278.1 391.6 278.0 393.1 277.9 394.6 277.8 396.2 277.7 397.7 277.6 399.2 277.6 400.7 277.5 402.2 277.5 403.7 277.5 405.3 277.5 406.8 277.5 408.3 277.5 409.8 277.5 411.3 277.6 412.8 277.6 414.3 277.6 415.9 277.7 417.4 277.7 418.9 277.8 420.4 277.8 421.9 277.9 423.4 277.9 424.9 278.0 426.4 278.1 427.9 278.1 429.4 278.2 431.0 278.2 432.5 278.3 434.0 278.3 435.5 278.4 437.0 278.4 438.5 278.4 440.0 278.5 441.5 278.5 443.0 278.5 444.5 278.5 446.0 278.5 447.6 278.5 449.1 278.4 450.6 278.4 452.1 278.4 453.6 278.3 455.1 278.2 456.6 278.2 458.1 278.1 459.7 278.0 461.2 278.0 462.7 277.9 464.2 277.8 465.7 277.7 467.2 277.6 468.7 277.6 470.3 277.5 471.8 277.4 473.3 277.3 474.8 277.2 476.3 277.1 477.8 277.1 479.3 277.0 480.9 276.9 482.4 276.9 483.9 276.8 485.4 276.7 486.9 276.7 488.4 276.7 490.0 276.6 491.5 276.6 493.0 276.6 494.5 276.6 496.0 276.6 497.5 276.6 499.1 276.6 500.6 276.7 502.1 276.7 503.6 276.8 505.1 276.9 506.6 277.0 508.2 277.1 509.7 277.2 511.2 277.3 512.7 277.5 514.2 277.7 515.8 277.9 517.3 278.1 518.8 278.3 520.3 278.6 521.8 278.8 523.3 279.1 524.9 279.4 526.4 279.8 527.9 280.1 529.4 280.5 530.9 281.0 532.3 281.4 533.7 282.0 535.1 282.5 536.4 283.2 537.7 283.9 538.9 284.6 540.1 285.4 541.1 286.3 542.1 287.3 543.0 288.4 543.8 289.5 544.5 290.8 545.1 292.1 545.7 293.4 546.2 294.8 546.6 296.3 547.0 297.8 547.3 299.3 547.6 300.8 547.9 302.4 548.1 304.0 548.3 305.5 548.5 307.1 548.7 308.7 548.9 310.2 549.0 311.8 549.1 313.3 549.3 314.9 549.4 316.4 549.4 317.9 549.5 319.5 549.6 321.0 549.6 322.5 549.7 324.1 549.7 325.6 549.7 327.1 549.8 328.6 549.8 330.2 549.7 331.7 549.7 333.2 549.7 334.7 549.7 336.2 549.6 337.7 549.6 339.2 549.6 340.7 549.5 342.2 549.5 343.7 549.4 345.2 549.3 346.7 549.3 348.2 549.2 349.7 549.1 351.2 549.0 352.7 549.0 354.2 548.9 355.7 548.8 357.2 548.8 358.7 548.7 360.2 548.6 361.7 548.5 363.2 548.5 364.7 548.4 366.2 548.4 367.7 548.3 369.2 548.3 370.7 548.2 372.2 548.2 373.7 548.2 375.2 548.1 376.7 548.1 378.2 548.1 379.7 548.1 381.3 548.1 382.8 548.1 384.3 548.2 385.8 548.2 387.3 548.2 388.8 548.3 390.4 548.4 391.9 548.5 393.4 548.6 395.0 548.7 396.5 383.5 397.1Z" fill="#feed00"/>
<path d="M383.8 297.7 385.4 297.8 387.0 298.0 388.6 298.1 390.2 298.2 391.7 298.4 393.3 298.5 394.9 298.5 396.4 298.6 398.0 298.7 399.5 298.7 401.1 298.8 402.6 298.8 404.1 298.9 405.7 298.9 407.2 298.9 408.7 298.9 410.2 298.9 411.7 298.9 413.3 298.8 414.8 298.8 416.3 298.8 417.8 298.7 419.3 298.7 420.8 298.6 422.3 298.6 423.8 298.5 425.3 298.4 426.8 298.4 428.2 298.3 429.7 298.2 431.2 298.1 432.7 298.0 434.2 297.9 435.7 297.8 437.2 297.7 438.6 297.6 440.1 297.5 441.6 297.4 443.1 297.3 444.6 297.1 446.1 297.0 447.5 296.9 449.0 296.8 450.5 296.7 452.0 296.6 453.5 296.4 455.0 296.3 456.5 296.2 457.9 296.1 459.4 296.0 460.9 295.9 462.4 295.8 463.9 295.6 465.4 295.5 466.9 295.4 468.4 295.3 469.9 295.2 471.4 295.1 472.9 295.1 474.4 295.0 476.0 294.9 477.5 294.8 479.0 294.7 480.5 294.7 482.0 294.6 483.6 294.6 485.1 294.5 486.7 294.5 488.2 294.4 489.7 294.4 491.3 294.4 492.9 294.4 494.4 294.4 496.0 294.4 497.6 294.4 499.1 294.4 500.7 294.4 502.3 294.5 503.9 294.5 505.5 294.6 507.1 294.7 508.6 294.8 510.2 294.9 511.7 295.1 513.3 295.3 514.8 295.5 516.3 295.7 517.7 296.0 519.2 296.4 520.6 296.8 521.9 297.2 523.3 297.7 524.6 298.2 525.8 298.8 527.0 299.5 528.1 300.2 529.2 300.9 530.3 301.8 531.2 302.7 532.2 303.7 533.0 304.7 533.8 305.9 534.5 307.1 535.2 308.4 535.8 309.7 536.3 311.1 536.8 312.6 537.2 314.0 537.6 315.5 537.9 317.1 538.2 318.6 538.4 320.2 538.6 321.8 538.8 323.4 538.9 325.0 539.0 326.6 539.1 328.2 539.1 329.8 539.1 331.4 539.1 333.0 539.1 334.6 539.1 336.2 539.1 337.8 539.1 339.4 539.0 340.9 539.0 342.5 539.0 344.1 539.0 345.6 539.0 347.1 539.0 348.7 539.0 350.2 539.0 351.7 539.0 353.1 539.0 354.6 539.1 356.1 539.1 357.6 539.2 359.0 539.2 360.5 539.3 361.9 539.3 363.4 539.4 364.8 539.4 366.3 539.5 367.7 539.5 369.2 539.6 370.6 539.6 372.1 539.7 373.5 539.7 375.0 539.8 376.5 539.8 378.0 539.9 379.5 539.9 380.9 539.9 382.5 540.0 384.0 540.0 385.5 540.0 387.1 540.0 388.6 540.0 390.2 540.0 391.8 540.0 393.4 539.9 395.0 539.9 396.7 383.5 397.1Z" fill="#ffbd00"/>
<path d="M384.0 343.1 385.5 342.9 386.9 342.7 388.4 342.4 389.9 342.2 391.4 341.9 392.8 341.6 394.3 341.3 395.8 341.1 397.2 340.7 398.7 340.4 400.2 340.1 401.6 339.8 403.1 339.4 404.6 339.1 406.0 338.7 407.5 338.3 409.0 338.0 410.4 337.6 411.9 337.2 413.4 336.8 414.8 336.4 416.3 336.0 417.8 335.6 419.2 335.2 420.7 334.8 422.1 334.3 423.6 333.9 425.1 333.5 426.5 333.1 428.0 332.6 429.5 332.2 430.9 331.8 432.4 331.3 433.9 330.9 435.3 330.5 436.8 330.1 438.3 329.6 439.7 329.2 441.2 328.8 442.7 328.4 444.1 328.0 445.6 327.6 447.1 327.2 448.5 326.8 450.0 326.4 451.5 326.0 453.0 325.6 454.4 325.3 455.9 324.9 457.4 324.5 458.9 324.2 460.3 323.8 461.8 323.5 463.3 323.2 464.8 322.9 466.3 322.6 467.8 322.3 469.3 322.0 470.8 321.8 472.2 321.5 473.7 321.3 475.2 321.0 476.7 320.8 478.2 320.6 479.7 320.4 481.2 320.3 482.7 320.1 484.3 320.0 485.8 319.9 487.3 319.7 488.8 319.7 490.3 319.6 491.8 319.5 493.4 319.5 494.9 319.5 496.4 319.5 497.9 319.5 499.4 319.6 501.0 319.7 502.4 319.8 503.9 320.0 505.4 320.2 506.8 320.5 508.2 320.9 509.5 321.3 510.8 321.8 512.1 322.3 513.3 323.0 514.4 323.7 515.5 324.6 516.5 325.5 517.5 326.5 518.4 327.6 519.2 328.8 520.0 330.1 520.7 331.4 521.4 332.8 522.0 334.2 522.6 335.6 523.1 337.1 523.6 338.6 524.0 340.1 524.4 341.6 524.7 343.1 525.1 344.6 525.3 346.2 525.6 347.7 525.8 349.2 526.0 350.8 526.2 352.3 526.3 353.9 526.4 355.5 526.5 357.0 526.6 358.6 526.7 360.2 526.7 361.7 526.7 363.3 526.7 364.8 526.8 366.4 526.7 368.0 526.7 369.5 526.7 371.1 526.7 372.6 526.7 374.2 526.7 375.7 526.7 377.2 526.7 378.8 526.7 380.3 526.7 381.8 526.7 383.3 526.7 384.8 526.8 386.2 526.8 387.7 526.9 389.2 527.0 390.6 527.1 392.0 527.3 393.4 527.4 394.9 527.6 396.2 430.6 396.5 430.7 396.7 430.5 395.0 430.2 393.4 429.8 391.8 429.4 390.3 428.9 388.8 428.4 387.3 427.7 385.9 427.1 384.5 426.3 383.2 425.5 381.9 424.6 380.7 423.7 379.5 422.8 378.3 421.7 377.2 420.7 376.1 419.6 375.0 418.4 374.0 417.2 373.1 416.0 372.1 414.7 371.2 413.4 370.4 412.1 369.6 410.7 368.8 409.4 368.1 408.0 367.3 406.5 366.7 405.1 366.1 403.6 365.5 402.1 364.9 400.6 364.4 399.1 363.9 397.6 363.5 396.1 363.1 394.6 362.7 393.1 362.3 391.6 362.0 390.0 361.8 388.5 361.5 387.0 361.3 385.5 361.2 384.1 361.0Z" fill="#ff8900"/>
<path d="M609.9 397.0 609.9 348.0 610.6 341.0 612.5 337.0 615.0 334.5 617.0 334.0 617.0 397.0Z" fill="#0004ff"/>
<path d="M602.0 397.0 602.2 365.0 604.0 361.7 607.0 360.5 609.5 363.0 609.9 370.0 610.0 397.0Z" fill="#0004ff"/>
<path d="M579.8 396.5 580.0 381.0 581.4 378.0 582.7 381.0 582.9 396.5Z" fill="#00dcfe"/>
<path d="M586.6 396.5 586.8 379.0 588.2 376.0 589.6 379.0 589.8 396.5Z" fill="#00a8ff"/>
<path d="M594.0 396.5 594.2 382.0 595.3 379.7 596.4 382.0 596.6 396.5Z" fill="#0070ff"/>
</g>
<path d="M409.39 394.10v-2.0M409.39 226.20v2.0M386.50 377.25h2.0M614.60 377.25h-2.0M422.78 394.10v-2.0M422.78 226.20v2.0M386.50 367.40h2.0M614.60 367.40h-2.0M432.28 394.10v-2.0M432.28 226.20v2.0M386.50 360.40h2.0M614.60 360.40h-2.0M439.65 394.10v-2.0M439.65 226.20v2.0M386.50 354.98h2.0M614.60 354.98h-2.0M445.67 394.10v-2.0M445.67 226.20v2.0M386.50 350.55h2.0M614.60 350.55h-2.0M450.76 394.10v-2.0M450.76 226.20v2.0M386.50 346.80h2.0M614.60 346.80h-2.0M455.16 394.10v-2.0M455.16 226.20v2.0M386.50 343.56h2.0M614.60 343.56h-2.0M459.05 394.10v-2.0M459.05 226.20v2.0M386.50 340.69h2.0M614.60 340.69h-2.0M462.53 394.10v-4.0M462.53 226.20v4.0M386.50 338.13h4.0M614.60 338.13h-4.0M485.42 394.10v-2.0M485.42 226.20v2.0M386.50 321.29h2.0M614.60 321.29h-2.0M498.81 394.10v-2.0M498.81 226.20v2.0M386.50 311.43h2.0M614.60 311.43h-2.0M508.31 394.10v-2.0M508.31 226.20v2.0M386.50 304.44h2.0M614.60 304.44h-2.0M515.68 394.10v-2.0M515.68 226.20v2.0M386.50 299.01h2.0M614.60 299.01h-2.0M521.70 394.10v-2.0M521.70 226.20v2.0M386.50 294.58h2.0M614.60 294.58h-2.0M526.79 394.10v-2.0M526.79 226.20v2.0M386.50 290.84h2.0M614.60 290.84h-2.0M531.20 394.10v-2.0M531.20 226.20v2.0M386.50 287.59h2.0M614.60 287.59h-2.0M535.09 394.10v-2.0M535.09 226.20v2.0M386.50 284.73h2.0M614.60 284.73h-2.0M538.57 394.10v-4.0M538.57 226.20v4.0M386.50 282.17h4.0M614.60 282.17h-4.0M561.45 394.10v-2.0M561.45 226.20v2.0M386.50 265.32h2.0M614.60 265.32h-2.0M574.84 394.10v-2.0M574.84 226.20v2.0M386.50 255.46h2.0M614.60 255.46h-2.0M584.34 394.10v-2.0M584.34 226.20v2.0M386.50 248.47h2.0M614.60 248.47h-2.0M591.71 394.10v-2.0M591.71 226.20v2.0M386.50 243.05h2.0M614.60 243.05h-2.0M597.73 394.10v-2.0M597.73 226.20v2.0M386.50 238.62h2.0M614.60 238.62h-2.0M602.82 394.10v-2.0M602.82 226.20v2.0M386.50 234.87h2.0M614.60 234.87h-2.0M607.23 394.10v-2.0M607.23 226.20v2.0M386.50 231.62h2.0M614.60 231.62h-2.0M611.12 394.10v-2.0M611.12 226.20v2.0M386.50 228.76h2.0M614.60 228.76h-2.0" stroke="#000" stroke-width="0.9" fill="none"/>
<rect x="386.50" y="226.20" width="228.10" height="167.90" fill="none" stroke="#000" stroke-width="1.0"/>
<text transform="translate(359.27 229.49) scale(1.056 1)" font-size="10.99" fill="#000">10</text>
<rect x="373.20" y="223.22" width="4.80" height="0.85" fill="#000"/>
<text transform="translate(378.44 225.52) scale(1.091 1)" font-size="8.21" fill="#000">5</text>
<text transform="translate(359.27 285.46) scale(1.056 1)" font-size="10.99" fill="#000">10</text>
<rect x="373.20" y="279.19" width="4.80" height="0.85" fill="#000"/>
<text transform="translate(378.33 281.49) scale(1.154 1)" font-size="8.10" fill="#000">6</text>
<text transform="translate(359.27 341.42) scale(1.056 1)" font-size="10.99" fill="#000">10</text>
<rect x="373.20" y="335.16" width="4.80" height="0.85" fill="#000"/>
<text transform="translate(378.33 337.53) scale(1.122 1)" font-size="8.33" fill="#000">7</text>
<text transform="translate(359.27 397.39) scale(1.056 1)" font-size="10.99" fill="#000">10</text>
<rect x="373.20" y="391.12" width="4.80" height="0.85" fill="#000"/>
<text transform="translate(378.43 393.42) scale(1.130 1)" font-size="8.10" fill="#000">8</text>
<text transform="translate(373.86 405.49) scale(1.065 1)" font-size="10.99" fill="#000">10</text>
<rect x="387.80" y="398.62" width="4.90" height="0.85" fill="#000"/>
<text transform="translate(393.03 401.57) scale(1.117 1)" font-size="8.38" fill="#000">8</text>
<text transform="translate(449.90 405.49) scale(1.065 1)" font-size="10.99" fill="#000">10</text>
<rect x="463.83" y="398.62" width="4.90" height="0.85" fill="#000"/>
<text transform="translate(468.96 401.65) scale(1.109 1)" font-size="8.62" fill="#000">7</text>
<text transform="translate(525.93 405.49) scale(1.065 1)" font-size="10.99" fill="#000">10</text>
<rect x="539.87" y="398.62" width="4.90" height="0.85" fill="#000"/>
<text transform="translate(544.99 401.57) scale(1.141 1)" font-size="8.38" fill="#000">6</text>
<text transform="translate(601.96 405.49) scale(1.065 1)" font-size="10.99" fill="#000">10</text>
<rect x="615.90" y="398.62" width="4.90" height="0.85" fill="#000"/>
<text transform="translate(621.13 401.57) scale(1.078 1)" font-size="8.50" fill="#000">5</text>
<rect x="629.00" y="226.20" width="8.50" height="9.14" fill="#9b0000"/>
<rect x="629.00" y="235.04" width="8.50" height="9.14" fill="#da0000"/>
<rect x="629.00" y="243.87" width="8.50" height="9.14" fill="#ff2500"/>
<rect x="629.00" y="252.71" width="8.50" height="9.14" fill="#ff5900"/>
<rect x="629.00" y="261.55" width="8.50" height="9.14" fill="#ff8900"/>
<rect x="629.00" y="270.38" width="8.50" height="9.14" fill="#ffbd00"/>
<rect x="629.00" y="279.22" width="8.50" height="9.14" fill="#feed00"/>
<rect x="629.00" y="288.06" width="8.50" height="9.14" fill="#d1ff26"/>
<rect x="629.00" y="296.89" width="8.50" height="9.14" fill="#a7ff50"/>
<rect x="629.00" y="305.73" width="8.50" height="9.14" fill="#7dff7a"/>
<rect x="629.00" y="314.57" width="8.50" height="9.14" fill="#50ffa7"/>
<rect x="629.00" y="323.41" width="8.50" height="9.14" fill="#26ffd1"/>
<rect x="629.00" y="332.24" width="8.50" height="9.14" fill="#00dcfe"/>
<rect x="629.00" y="341.08" width="8.50" height="9.14" fill="#00a8ff"/>
<rect x="629.00" y="349.92" width="8.50" height="9.14" fill="#0070ff"/>
<rect x="629.00" y="358.75" width="8.50" height="9.14" fill="#003cff"/>
<rect x="629.00" y="367.59" width="8.50" height="9.14" fill="#0004ff"/>
<rect x="629.00" y="376.43" width="8.50" height="9.14" fill="#0000da"/>
<rect x="629.00" y="385.26" width="8.50" height="8.84" fill="#00009b"/>
<rect x="629.00" y="226.20" width="8.50" height="167.90" fill="none" stroke="#000" stroke-width="1.1"/>
<text transform="translate(639.77 238.63) scale(1.084 1)" font-size="10.70" fill="#000">10</text>
<rect x="653.60" y="231.97" width="4.90" height="0.85" fill="#000"/>
<text transform="translate(659.50 234.99) scale(0.987 1)" font-size="8.14" fill="#000">21</text>
<text transform="translate(639.77 284.66) scale(1.084 1)" font-size="10.70" fill="#000">10</text>
<rect x="653.60" y="277.99" width="4.90" height="0.85" fill="#000"/>
<text transform="translate(659.50 280.94) scale(1.001 1)" font-size="8.03" fill="#000">23</text>
<text transform="translate(639.77 330.68) scale(1.084 1)" font-size="10.70" fill="#000">10</text>
<rect x="653.60" y="324.02" width="4.90" height="0.85" fill="#000"/>
<text transform="translate(659.50 326.96) scale(0.992 1)" font-size="8.03" fill="#000">25</text>
<text transform="translate(639.77 376.71) scale(1.084 1)" font-size="10.70" fill="#000">10</text>
<rect x="653.60" y="370.04" width="4.90" height="0.85" fill="#000"/>
<text transform="translate(659.50 373.07) scale(0.987 1)" font-size="8.14" fill="#000">27</text>
<path d="M637.50 234.99h-4M637.50 281.02h-4M637.50 327.04h-4M637.50 373.07h-4" stroke="#000" stroke-width="0.9"/>
<text transform="translate(470.93 215.85) scale(0.969 1)" font-size="13.58" font-style="italic" fill="#000">x</text>
<text transform="translate(478.41 217.56) scale(1.062 1)" font-size="9.32" fill="#000">kd</text>
<text transform="translate(492.77 215.31) scale(1.511 1)" font-size="10.94" fill="#000">=</text>
<text transform="translate(506.31 215.62) scale(1.141 1)" font-size="12.96" fill="#000">500</text>
<path d="M584.00 207.15L581.90 211.75L584.00 216.35" stroke="#000" stroke-width="0.9" fill="none"/>
<path d="M627.10 207.15L629.20 211.75L627.10 216.35" stroke="#000" stroke-width="0.9" fill="none"/>
<text class="ns" transform="translate(585.05 215.14) scale(1.089 1)" font-size="10.56" font-style="italic" fill="#000">σ</text>
<text class="ns" transform="translate(592.73 216.76) scale(1.029 1)" font-size="8.91" fill="#000">ann</text>
<text class="ns" transform="translate(607.14 215.25) scale(1.186 1)" font-size="11.13" font-style="italic" fill="#000">v</text>
<text class="ns" transform="translate(614.90 216.76) scale(1.123 1)" font-size="8.90" fill="#000">rel</text>
<path d="M634.30 206.75H632.00V216.35H634.30" stroke="#000" stroke-width="0.95" fill="none"/>
<text class="ns" transform="translate(635.36 214.94) scale(1.280 1)" font-size="10.55" fill="#000">cm</text>
<text class="ns" transform="translate(653.05 209.58) scale(1.239 1)" font-size="7.04" fill="#000">3</text>
<text class="ns" transform="translate(662.55 214.94) scale(1.103 1)" font-size="10.55" fill="#000">s</text>
<text class="ns" transform="translate(669.12 210.45) scale(1.474 1)" font-size="6.52" fill="#000">−1</text>
<path d="M681.90 206.75H684.20V216.35H681.90" stroke="#000" stroke-width="0.95" fill="none"/>
<g clip-path="url(#c12)">
<rect x="386.5" y="428.1" width="228.1" height="167.9" fill="#0004ff"/>
<path d="M616.3 506.6 615.6 507.9 615.0 509.3 614.4 510.6 613.7 512.0 613.1 513.3 612.5 514.7 611.8 516.1 611.2 517.4 610.5 518.8 609.9 520.2 609.2 521.6 608.6 523.0 608.0 524.3 607.3 525.7 606.7 527.1 606.0 528.5 605.4 529.9 604.8 531.3 604.1 532.7 603.5 534.2 602.9 535.6 602.2 537.0 601.6 538.4 601.0 539.8 600.4 541.3 599.8 542.7 599.2 544.1 598.6 545.6 598.0 547.0 597.4 548.5 596.9 549.9 596.3 551.3 595.8 552.8 595.2 554.3 594.7 555.7 594.2 557.2 593.6 558.6 593.1 560.1 592.6 561.6 592.1 563.0 591.7 564.5 591.2 566.0 590.8 567.4 590.3 568.9 589.9 570.4 589.5 571.9 589.1 573.4 588.7 574.9 588.3 576.4 588.0 577.8 587.6 579.3 587.3 580.8 587.0 582.3 586.7 583.8 586.4 585.3 586.2 586.8 585.9 588.3 585.7 589.8 585.5 591.4 585.3 592.9 585.2 594.4 585.0 595.9 584.9 597.4 584.8 598.9 383.5 599.0 383.5 425.1 617.6 425.1Z" fill="#003cff"/>
<path d="M616.4 487.6 615.7 488.9 615.0 490.2 614.3 491.6 613.7 492.9 613.0 494.2 612.3 495.6 611.6 496.9 610.9 498.3 610.3 499.6 609.6 501.0 608.9 502.3 608.2 503.7 607.5 505.0 606.8 506.4 606.2 507.8 605.5 509.1 604.8 510.5 604.1 511.9 603.4 513.2 602.8 514.6 602.1 516.0 601.4 517.4 600.8 518.7 600.1 520.1 599.4 521.5 598.8 522.9 598.1 524.3 597.5 525.7 596.9 527.1 596.2 528.5 595.6 529.9 595.0 531.3 594.4 532.7 593.8 534.1 593.1 535.5 592.6 536.9 592.0 538.4 591.4 539.8 590.8 541.2 590.3 542.6 589.7 544.1 589.2 545.5 588.6 546.9 588.1 548.4 587.6 549.8 587.1 551.3 586.6 552.7 586.1 554.1 585.6 555.6 585.1 557.1 584.7 558.5 584.3 560.0 583.8 561.4 583.4 562.9 583.0 564.4 582.6 565.8 582.3 567.3 581.9 568.8 581.5 570.3 581.2 571.8 580.9 573.2 580.6 574.7 580.3 576.2 580.0 577.7 579.8 579.2 579.5 580.7 579.3 582.2 579.1 583.7 578.9 585.3 578.8 586.8 578.6 588.3 578.5 589.8 578.4 591.3 578.3 592.9 578.2 594.4 578.1 595.9 578.1 597.5 578.1 599.0 383.5 599.0 383.5 425.1 617.6 425.1Z" fill="#0070ff"/>
<path d="M616.4 464.6 615.7 466.0 615.1 467.3 614.4 468.6 613.7 470.0 613.1 471.3 612.4 472.7 611.8 474.0 611.1 475.4 610.4 476.7 609.8 478.1 609.1 479.4 608.5 480.8 607.8 482.1 607.1 483.5 606.5 484.9 605.8 486.2 605.1 487.6 604.5 488.9 603.8 490.3 603.1 491.7 602.5 493.1 601.8 494.4 601.2 495.8 600.5 497.2 599.9 498.6 599.2 499.9 598.6 501.3 597.9 502.7 597.3 504.1 596.7 505.5 596.0 506.9 595.4 508.2 594.8 509.6 594.2 511.0 593.6 512.4 593.0 513.8 592.4 515.2 591.8 516.6 591.2 518.0 590.6 519.4 590.0 520.9 589.4 522.3 588.9 523.7 588.3 525.1 587.8 526.5 587.2 527.9 586.7 529.3 586.1 530.8 585.6 532.2 585.1 533.6 584.6 535.1 584.1 536.5 583.6 537.9 583.1 539.4 582.7 540.8 582.2 542.3 581.8 543.7 581.3 545.1 580.9 546.6 580.5 548.0 580.0 549.5 579.6 551.0 579.3 552.4 578.9 553.9 578.5 555.3 578.2 556.8 577.8 558.3 577.5 559.8 577.2 561.2 576.9 562.7 576.6 564.2 576.3 565.7 576.0 567.2 575.8 568.7 575.5 570.2 575.3 571.6 575.1 573.1 574.9 574.6 574.7 576.1 574.5 577.7 574.4 579.2 574.3 580.7 574.1 582.2 574.0 583.7 573.9 585.2 573.9 586.8 573.8 588.3 573.8 589.8 573.7 591.3 573.7 592.9 573.7 594.4 573.8 596.0 573.8 597.5 573.9 599.1 383.5 599.0 383.5 425.1 617.6 425.1Z" fill="#00a8ff"/>
<path d="M616.2 440.5 615.4 441.7 614.7 442.9 613.9 444.2 613.2 445.5 612.6 446.7 611.9 448.0 611.2 449.4 610.6 450.7 609.9 452.0 609.3 453.4 608.7 454.7 608.0 456.1 607.4 457.4 606.8 458.8 606.2 460.2 605.6 461.6 605.0 463.0 604.4 464.4 603.8 465.8 603.2 467.2 602.6 468.6 602.0 470.0 601.4 471.4 600.8 472.8 600.2 474.2 599.6 475.6 599.1 477.1 598.5 478.5 597.9 479.9 597.3 481.3 596.7 482.7 596.1 484.2 595.6 485.6 595.0 487.0 594.4 488.4 593.8 489.8 593.2 491.3 592.6 492.7 592.1 494.1 591.5 495.5 590.9 496.9 590.4 498.4 589.8 499.8 589.2 501.2 588.7 502.6 588.1 504.1 587.6 505.5 587.0 506.9 586.5 508.3 585.9 509.8 585.4 511.2 584.8 512.6 584.3 514.0 583.8 515.5 583.3 516.9 582.8 518.3 582.3 519.8 581.8 521.2 581.3 522.7 580.8 524.1 580.3 525.5 579.9 527.0 579.4 528.4 578.9 529.9 578.5 531.3 578.1 532.8 577.6 534.2 577.2 535.7 576.8 537.1 576.4 538.6 576.0 540.1 575.6 541.5 575.2 543.0 574.9 544.4 574.5 545.9 574.2 547.4 573.8 548.9 573.5 550.3 573.2 551.8 572.9 553.3 572.6 554.8 572.4 556.3 572.1 557.7 571.8 559.2 571.6 560.7 571.4 562.2 571.2 563.7 571.0 565.2 570.8 566.7 570.6 568.2 570.5 569.8 570.3 571.3 570.2 572.8 570.1 574.3 570.0 575.8 569.9 577.4 569.8 578.9 569.8 580.4 569.8 582.0 569.7 583.5 569.7 585.1 569.7 586.6 569.8 588.2 569.8 589.7 569.9 591.3 570.0 592.9 570.1 594.4 570.2 596.0 570.3 597.6 570.5 599.2 383.5 599.0 383.5 425.1 617.6 425.1Z" fill="#00dcfe"/>
<path d="M555.1 426.6 556.2 426.9 557.4 427.3 558.7 427.6 560.0 427.9 561.5 428.1 563.0 428.3 564.5 428.6 566.1 428.8 567.7 429.0 569.4 429.3 571.0 429.5 572.7 429.8 574.4 430.2 576.1 430.5 577.7 430.9 579.3 431.4 580.9 431.9 582.5 432.4 584.0 433.0 585.4 433.7 586.7 434.4 587.9 435.2 589.0 436.1 590.0 437.1 590.9 438.1 591.7 439.2 592.4 440.3 592.9 441.5 593.4 442.8 593.8 444.1 594.1 445.5 594.4 446.9 594.5 448.3 594.6 449.8 594.6 451.2 594.6 452.7 594.5 454.3 594.4 455.8 594.2 457.3 594.0 458.8 593.8 460.4 593.5 461.9 593.2 463.4 592.9 464.9 592.5 466.3 592.2 467.8 591.8 469.3 591.3 470.8 590.9 472.2 590.4 473.7 590.0 475.1 589.5 476.5 589.0 478.0 588.4 479.4 587.9 480.8 587.4 482.3 586.8 483.7 586.3 485.1 585.7 486.5 585.1 487.9 584.5 489.3 583.9 490.8 583.3 492.2 582.8 493.6 582.2 495.0 581.6 496.4 581.0 497.8 580.4 499.2 579.8 500.6 579.3 502.0 578.7 503.4 578.1 504.8 577.6 506.3 577.1 507.7 576.5 509.1 576.0 510.5 575.5 512.0 575.1 513.4 574.6 514.8 574.1 516.3 573.7 517.7 573.3 519.2 572.9 520.6 572.6 522.1 572.2 523.6 571.9 525.0 571.5 526.5 571.2 528.0 570.9 529.5 570.7 531.0 570.4 532.5 570.2 534.0 569.9 535.4 569.7 536.9 569.5 538.4 569.3 540.0 569.1 541.5 568.9 543.0 568.7 544.5 568.6 546.0 568.4 547.5 568.3 549.0 568.1 550.5 568.0 552.1 567.9 553.6 567.8 555.1 567.7 556.6 567.6 558.2 567.5 559.7 567.4 561.2 567.3 562.7 567.2 564.2 567.1 565.8 567.1 567.3 567.0 568.8 566.9 570.3 566.9 571.9 566.8 573.4 566.7 574.9 566.7 576.4 566.6 577.9 566.5 579.5 566.5 581.0 566.4 582.5 566.4 584.0 566.3 585.5 566.2 587.0 566.1 588.5 566.1 590.0 566.0 591.5 565.9 593.0 565.8 594.5 565.7 596.0 565.6 597.4 565.5 598.9 383.5 599.0 383.5 425.1Z" fill="#26ffd1"/>
<path d="M384.0 440.2 385.5 440.4 387.0 440.5 388.5 440.6 390.1 440.7 391.6 440.8 393.1 440.9 394.6 441.0 396.1 441.1 397.7 441.2 399.2 441.2 400.7 441.3 402.2 441.4 403.7 441.4 405.2 441.5 406.7 441.5 408.2 441.5 409.8 441.6 411.3 441.6 412.8 441.6 414.3 441.6 415.8 441.6 417.3 441.6 418.8 441.6 420.3 441.6 421.8 441.6 423.4 441.6 424.9 441.6 426.4 441.5 427.9 441.5 429.4 441.5 430.9 441.5 432.4 441.4 433.9 441.4 435.4 441.3 436.9 441.3 438.4 441.3 439.9 441.2 441.4 441.2 442.9 441.1 444.5 441.0 446.0 441.0 447.5 440.9 449.0 440.9 450.5 440.8 452.0 440.8 453.5 440.7 455.0 440.6 456.5 440.6 458.0 440.5 459.5 440.5 461.0 440.4 462.5 440.3 464.0 440.3 465.5 440.2 467.0 440.2 468.5 440.1 470.0 440.0 471.5 440.0 473.1 439.9 474.6 439.9 476.1 439.8 477.6 439.8 479.1 439.7 480.6 439.7 482.1 439.6 483.6 439.6 485.1 439.6 486.6 439.5 488.1 439.5 489.6 439.5 491.1 439.5 492.6 439.4 494.2 439.4 495.7 439.4 497.2 439.4 498.7 439.4 500.2 439.4 501.7 439.4 503.2 439.4 504.7 439.4 506.2 439.4 507.7 439.5 509.3 439.5 510.8 439.5 512.3 439.6 513.8 439.6 515.3 439.7 516.8 439.8 518.3 439.8 519.9 439.9 521.4 440.0 522.9 440.1 524.4 440.2 525.9 440.3 527.4 440.4 529.0 440.5 530.5 440.6 532.0 440.7 533.5 440.9 535.0 441.0 536.6 441.2 538.1 441.4 539.6 441.5 541.1 441.7 542.7 441.9 544.2 442.1 545.7 442.3 547.2 442.6 548.8 442.8 550.3 443.0 551.8 443.3 553.4 443.5 554.9 443.8 556.4 444.1 557.9 444.4 559.4 444.7 560.9 445.1 562.4 445.5 563.8 445.9 565.2 446.4 566.6 446.9 567.9 447.4 569.2 448.0 570.4 448.7 571.5 449.4 572.6 450.2 573.6 451.0 574.5 452.0 575.3 453.0 576.1 454.1 576.7 455.2 577.3 456.5 577.7 457.8 578.1 459.2 578.4 460.7 578.6 462.2 578.8 463.8 578.9 465.3 578.9 466.9 578.8 468.6 578.7 470.2 578.5 471.8 578.3 473.4 578.1 475.1 577.8 476.7 577.5 478.3 577.1 479.9 576.8 481.4 576.4 483.0 576.0 484.5 575.6 486.0 575.2 487.5 574.8 489.0 574.4 490.5 574.0 492.0 573.6 493.4 573.2 494.9 572.8 496.3 572.3 497.8 571.9 499.2 571.5 500.6 571.1 502.0 570.7 503.4 570.2 504.9 569.8 506.3 569.4 507.7 569.1 509.1 568.7 510.5 568.3 511.9 567.9 513.4 567.6 514.8 567.3 516.2 567.0 517.7 566.7 519.1 566.4 520.6 566.1 522.0 565.8 523.5 565.6 525.0 565.3 526.5 565.1 527.9 564.9 529.4 564.7 530.9 564.5 532.4 564.3 533.9 564.1 535.4 563.9 536.9 563.8 538.4 563.6 539.9 563.5 541.5 563.4 543.0 563.2 544.5 563.1 546.0 563.0 547.5 562.9 549.1 562.8 550.6 562.7 552.1 562.6 553.6 562.5 555.2 562.4 556.7 562.4 558.2 562.3 559.8 562.2 561.3 562.1 562.8 562.1 564.4 562.0 565.9 562.0 567.4 561.9 568.9 561.8 570.5 561.8 572.0 561.7 573.5 561.7 575.0 561.6 576.6 561.6 578.1 561.5 579.6 561.4 581.1 561.4 582.6 561.3 584.1 561.3 585.6 561.2 587.1 561.1 588.6 561.1 590.1 561.0 591.6 560.9 593.0 560.8 594.5 560.7 596.0 560.6 597.4 560.5 598.9 383.5 599.0Z" fill="#50ffa7"/>
<path d="M384.0 454.8 385.5 454.7 387.1 454.6 388.6 454.5 390.2 454.4 391.8 454.3 393.3 454.3 394.9 454.2 396.4 454.2 397.9 454.1 399.5 454.1 401.0 454.1 402.5 454.0 404.1 454.0 405.6 454.0 407.1 454.0 408.6 454.0 410.1 454.0 411.6 454.0 413.1 454.0 414.7 454.0 416.2 454.1 417.7 454.1 419.2 454.1 420.7 454.2 422.2 454.2 423.7 454.2 425.1 454.3 426.6 454.3 428.1 454.4 429.6 454.4 431.1 454.5 432.6 454.5 434.1 454.6 435.6 454.7 437.0 454.7 438.5 454.8 440.0 454.8 441.5 454.9 443.0 455.0 444.5 455.0 445.9 455.1 447.4 455.2 448.9 455.2 450.4 455.3 451.9 455.4 453.3 455.4 454.8 455.5 456.3 455.5 457.8 455.6 459.3 455.7 460.8 455.7 462.2 455.8 463.7 455.8 465.2 455.9 466.7 455.9 468.2 456.0 469.7 456.0 471.2 456.0 472.7 456.1 474.2 456.1 475.7 456.1 477.2 456.2 478.7 456.2 480.2 456.2 481.7 456.2 483.2 456.2 484.7 456.2 486.3 456.2 487.8 456.2 489.3 456.2 490.8 456.1 492.3 456.1 493.9 456.1 495.4 456.0 497.0 456.0 498.5 455.9 500.0 455.8 501.6 455.8 503.1 455.7 504.7 455.6 506.3 455.5 507.8 455.4 509.4 455.4 510.9 455.3 512.5 455.2 514.0 455.1 515.6 455.1 517.2 455.0 518.7 455.0 520.3 455.0 521.8 455.0 523.4 455.0 524.9 455.0 526.4 455.1 528.0 455.1 529.5 455.2 531.0 455.4 532.5 455.5 534.0 455.7 535.5 455.9 537.0 456.2 538.5 456.4 540.0 456.8 541.4 457.1 542.9 457.5 544.3 457.9 545.7 458.4 547.1 458.9 548.5 459.5 549.9 460.1 551.2 460.8 552.5 461.5 553.8 462.3 555.0 463.1 556.2 463.9 557.3 464.8 558.4 465.8 559.4 466.8 560.3 467.9 561.1 469.0 561.9 470.2 562.5 471.4 563.1 472.7 563.6 474.1 564.1 475.4 564.4 476.8 564.7 478.2 564.9 479.7 565.1 481.1 565.2 482.6 565.2 484.1 565.2 485.6 565.2 487.1 565.1 488.6 565.0 490.1 564.8 491.6 564.6 493.1 564.3 494.7 564.1 496.2 563.8 497.8 563.5 499.3 563.1 500.9 562.8 502.4 562.4 504.0 562.1 505.5 561.7 507.1 561.4 508.6 561.0 510.2 560.7 511.7 560.4 513.3 560.0 514.8 559.7 516.4 559.5 517.9 559.2 519.4 559.0 520.9 558.8 522.5 558.6 524.0 558.4 525.5 558.2 527.0 558.0 528.5 557.9 530.0 557.8 531.5 557.6 533.0 557.5 534.5 557.4 536.0 557.4 537.5 557.3 539.0 557.2 540.4 557.2 541.9 557.1 543.4 557.1 544.9 557.0 546.4 557.0 547.9 557.0 549.3 557.0 550.8 557.0 552.3 557.0 553.8 557.0 555.3 557.0 556.7 557.0 558.2 557.0 559.7 557.0 561.2 557.0 562.7 557.0 564.1 557.0 565.6 557.0 567.1 557.0 568.6 557.0 570.1 556.9 571.6 556.9 573.1 556.9 574.6 556.9 576.1 556.8 577.6 556.8 579.1 556.7 580.6 556.7 582.1 556.6 583.7 556.5 585.2 556.4 586.7 556.3 588.3 556.2 589.8 556.1 591.3 556.0 592.9 555.8 594.4 555.6 596.0 555.4 597.6 555.2 599.1 383.5 599.0Z" fill="#7dff7a"/>
<path d="M384.0 470.1 385.5 470.3 387.0 470.5 388.5 470.6 390.0 470.8 391.5 470.9 393.1 471.0 394.6 471.1 396.1 471.2 397.6 471.3 399.1 471.4 400.6 471.5 402.1 471.5 403.6 471.6 405.1 471.6 406.6 471.6 408.2 471.7 409.7 471.7 411.2 471.7 412.7 471.7 414.2 471.7 415.7 471.6 417.2 471.6 418.8 471.6 420.3 471.5 421.8 471.5 423.3 471.4 424.8 471.4 426.3 471.3 427.8 471.3 429.4 471.2 430.9 471.1 432.4 471.0 433.9 471.0 435.4 470.9 437.0 470.8 438.5 470.7 440.0 470.6 441.5 470.5 443.0 470.4 444.5 470.3 446.1 470.2 447.6 470.1 449.1 470.0 450.6 469.9 452.1 469.8 453.7 469.7 455.2 469.7 456.7 469.6 458.2 469.5 459.7 469.4 461.3 469.3 462.8 469.2 464.3 469.1 465.8 469.0 467.3 469.0 468.9 468.9 470.4 468.8 471.9 468.8 473.4 468.7 474.9 468.7 476.5 468.6 478.0 468.6 479.5 468.5 481.0 468.5 482.5 468.5 484.1 468.4 485.6 468.4 487.1 468.4 488.6 468.4 490.1 468.5 491.6 468.5 493.2 468.5 494.7 468.5 496.2 468.6 497.7 468.7 499.2 468.7 500.8 468.8 502.3 468.9 503.8 469.0 505.3 469.1 506.8 469.2 508.3 469.4 509.9 469.5 511.4 469.7 512.9 469.9 514.4 470.0 515.9 470.2 517.4 470.5 518.9 470.7 520.5 470.9 522.0 471.2 523.5 471.5 525.0 471.7 526.5 472.0 528.0 472.4 529.5 472.7 531.0 473.1 532.5 473.5 533.9 473.9 535.3 474.4 536.7 474.9 538.1 475.4 539.4 476.0 540.7 476.6 541.9 477.3 543.1 478.0 544.2 478.8 545.3 479.7 546.3 480.6 547.2 481.6 548.1 482.7 548.8 483.8 549.5 485.0 550.2 486.3 550.7 487.7 551.2 489.1 551.6 490.5 551.9 492.0 552.2 493.5 552.4 495.1 552.6 496.7 552.7 498.2 552.7 499.9 552.8 501.5 552.8 503.1 552.7 504.7 552.7 506.4 552.6 508.0 552.5 509.6 552.4 511.3 552.2 512.9 552.1 514.5 552.0 516.1 551.9 517.6 551.8 519.2 551.7 520.7 551.6 522.3 551.5 523.8 551.4 525.3 551.3 526.8 551.2 528.3 551.1 529.7 551.0 531.2 551.0 532.7 550.9 534.1 550.8 535.6 550.7 537.1 550.7 538.6 550.6 540.0 550.6 541.5 550.5 543.0 550.5 544.5 550.4 546.0 550.4 547.5 550.4 549.0 550.3 550.5 550.3 552.0 550.2 553.5 550.2 555.0 550.2 556.5 550.2 558.0 550.1 559.5 550.1 561.0 550.1 562.6 550.1 564.1 550.0 565.6 550.0 567.1 550.0 568.6 550.0 570.2 549.9 571.7 549.9 573.2 549.9 574.7 549.9 576.3 549.9 577.8 549.8 579.3 549.8 580.8 549.8 582.4 549.7 583.9 549.7 585.4 549.7 586.9 549.6 588.4 549.6 590.0 549.6 591.5 549.5 593.0 549.5 594.5 549.4 596.0 549.4 597.5 549.3 599.0 383.5 599.0Z" fill="#a7ff50"/>
<path d="M384.0 488.6 385.5 488.8 387.0 489.1 388.5 489.3 389.9 489.5 391.4 489.7 392.9 489.9 394.4 490.0 395.9 490.2 397.4 490.3 398.9 490.4 400.4 490.5 401.9 490.6 403.4 490.6 404.9 490.7 406.4 490.7 407.9 490.7 409.4 490.7 410.9 490.7 412.4 490.7 413.9 490.7 415.4 490.6 417.0 490.6 418.5 490.5 420.0 490.5 421.5 490.4 423.0 490.3 424.6 490.2 426.1 490.1 427.6 490.0 429.1 489.9 430.7 489.8 432.2 489.7 433.7 489.5 435.2 489.4 436.8 489.3 438.3 489.1 439.8 489.0 441.4 488.8 442.9 488.7 444.4 488.5 445.9 488.4 447.5 488.2 449.0 488.1 450.5 487.9 452.1 487.8 453.6 487.7 455.1 487.5 456.7 487.4 458.2 487.2 459.7 487.1 461.3 487.0 462.8 486.9 464.3 486.7 465.8 486.6 467.4 486.5 468.9 486.4 470.4 486.3 472.0 486.2 473.5 486.2 475.0 486.1 476.5 486.0 478.1 486.0 479.6 486.0 481.1 485.9 482.6 485.9 484.1 485.9 485.7 485.9 487.2 485.9 488.7 486.0 490.2 486.0 491.7 486.1 493.2 486.2 494.7 486.3 496.2 486.4 497.7 486.5 499.2 486.6 500.7 486.8 502.2 487.0 503.7 487.2 505.2 487.4 506.7 487.6 508.2 487.9 509.7 488.1 511.2 488.4 512.7 488.8 514.2 489.1 515.6 489.4 517.1 489.8 518.6 490.2 520.0 490.7 521.5 491.1 522.9 491.6 524.3 492.2 525.7 492.7 527.1 493.3 528.4 494.0 529.6 494.7 530.8 495.5 532.0 496.3 533.1 497.2 534.1 498.1 535.1 499.1 536.0 500.2 536.8 501.3 537.5 502.6 538.2 503.8 538.8 505.1 539.3 506.5 539.8 507.9 540.2 509.3 540.6 510.8 540.9 512.2 541.1 513.7 541.4 515.2 541.5 516.8 541.7 518.3 541.8 519.9 541.8 521.4 541.9 523.0 541.9 524.6 541.9 526.2 541.9 527.8 541.9 529.4 541.8 531.0 541.8 532.6 541.7 534.2 541.7 535.8 541.6 537.4 541.5 539.0 541.5 540.5 541.5 542.1 541.4 543.6 541.4 545.1 541.4 546.7 541.4 548.2 541.4 549.7 541.5 551.2 541.5 552.7 541.5 554.1 541.5 555.6 541.6 557.1 541.6 558.5 541.7 560.0 541.7 561.5 541.8 562.9 541.8 564.4 541.9 565.8 541.9 567.3 542.0 568.7 542.0 570.2 542.1 571.6 542.1 573.1 542.2 574.6 542.2 576.0 542.3 577.5 542.3 579.0 542.3 580.5 542.3 582.0 542.3 583.5 542.3 585.0 542.3 586.5 542.3 588.1 542.3 589.6 542.2 591.2 542.2 592.7 542.1 594.3 542.0 595.9 542.0 597.5 541.8 599.2 383.5 599.0Z" fill="#d1ff26"/>
<path d="M383.8 515.9 385.4 515.8 387.0 515.7 388.6 515.6 390.2 515.5 391.8 515.5 393.3 515.4 394.9 515.3 396.4 515.2 398.0 515.2 399.5 515.1 401.0 515.1 402.5 515.0 404.0 515.0 405.5 514.9 407.0 514.9 408.5 514.8 410.0 514.8 411.5 514.7 413.0 514.7 414.5 514.7 416.0 514.6 417.4 514.6 418.9 514.5 420.4 514.5 421.9 514.5 423.3 514.4 424.8 514.4 426.3 514.4 427.7 514.3 429.2 514.3 430.6 514.2 432.1 514.2 433.6 514.1 435.0 514.1 436.5 514.0 438.0 514.0 439.4 513.9 440.9 513.9 442.4 513.8 443.9 513.7 445.3 513.7 446.8 513.6 448.3 513.5 449.8 513.4 451.3 513.3 452.8 513.3 454.3 513.2 455.8 513.0 457.3 512.9 458.8 512.8 460.3 512.7 461.9 512.6 463.4 512.4 465.0 512.3 466.5 512.1 468.1 512.0 469.6 511.8 471.2 511.6 472.8 511.4 474.4 511.2 476.0 511.0 477.6 510.9 479.2 510.7 480.8 510.5 482.4 510.3 484.0 510.2 485.6 510.0 487.2 509.9 488.7 509.8 490.3 509.7 491.9 509.7 493.4 509.6 495.0 509.6 496.5 509.6 498.0 509.7 499.5 509.8 501.0 509.9 502.5 510.1 504.0 510.3 505.4 510.6 506.8 510.9 508.2 511.2 509.6 511.6 510.9 512.1 512.2 512.6 513.5 513.2 514.8 513.8 516.0 514.5 517.2 515.3 518.3 516.1 519.5 517.0 520.5 518.0 521.5 519.0 522.5 520.1 523.4 521.2 524.2 522.4 524.9 523.6 525.6 524.9 526.2 526.3 526.7 527.7 527.1 529.1 527.5 530.6 527.8 532.1 528.1 533.6 528.4 535.1 528.6 536.7 528.8 538.2 528.9 539.8 529.1 541.3 529.2 542.9 529.3 544.4 529.4 546.0 529.5 547.5 529.5 549.1 529.6 550.6 529.6 552.2 529.7 553.7 529.7 555.2 529.7 556.8 529.7 558.3 529.7 559.8 529.7 561.4 529.7 562.9 529.7 564.4 529.7 565.9 529.7 567.5 529.6 569.0 529.6 570.5 529.6 572.0 529.6 573.5 529.6 575.0 529.6 576.5 529.6 578.0 529.6 579.5 529.7 581.0 529.7 582.5 529.7 584.0 529.8 585.5 529.9 587.0 530.0 588.5 530.1 590.0 530.2 591.5 530.3 593.0 530.5 594.5 530.7 596.0 530.8 597.5 531.1 599.0 383.5 599.0Z" fill="#feed00"/>
<path d="M464.8 598.9 465.0 597.5 465.2 596.0 465.4 594.6 465.5 593.1 465.7 591.6 465.8 590.1 466.0 588.6 466.2 587.1 466.4 585.6 466.6 584.1 466.8 582.5 467.1 581.0 467.4 579.5 467.8 578.0 468.2 576.5 468.7 575.0 469.3 573.6 470.0 572.1 470.7 570.7 471.5 569.3 472.4 568.0 473.4 566.7 474.5 565.4 475.6 564.2 476.8 563.1 478.0 562.0 479.2 561.0 480.5 560.1 481.9 559.3 483.2 558.6 484.5 558.1 485.9 557.6 487.2 557.3 488.6 557.1 489.9 557.0 491.2 557.2 492.4 557.4 493.7 557.8 494.9 558.4 496.0 559.1 497.1 559.9 498.2 560.8 499.2 561.8 500.1 563.0 501.0 564.2 501.9 565.4 502.6 566.8 503.4 568.2 504.0 569.7 504.6 571.2 505.1 572.8 505.5 574.4 505.9 575.9 506.2 577.6 506.4 579.2 506.5 580.8 506.7 582.4 506.7 584.0 506.8 585.6 506.8 587.2 506.8 588.8 506.8 590.3 506.8 591.8 506.9 593.3 506.9 594.7 507.0 596.1 507.2 597.5 507.4 598.8Z" fill="#ffbd00"/>
<path d="M586.7 599.0 587.0 568.0 589.0 564.4 591.5 566.0 592.0 599.0Z" fill="#0000da"/>
<path d="M594.7 599.0 595.0 571.0 596.5 568.7 598.0 571.0 598.0 599.0Z" fill="#0000da"/>
<path d="M601.7 599.0 601.8 556.0 603.5 552.6 605.5 556.0 605.5 599.0Z" fill="#0000da"/>
<path d="M609.8 599.0 610.0 562.0 612.0 558.0 615.5 556.0 617.0 556.0 617.0 599.0Z" fill="#0000da"/>
<path d="M602.3 599.0 602.5 578.0 603.4 575.2 604.4 578.0 604.4 599.0Z" fill="#00009b"/>
</g>
<path d="M409.39 596.05v-2.0M409.39 428.15v2.0M386.50 579.20h2.0M614.60 579.20h-2.0M422.78 596.05v-2.0M422.78 428.15v2.0M386.50 569.35h2.0M614.60 569.35h-2.0M432.28 596.05v-2.0M432.28 428.15v2.0M386.50 562.35h2.0M614.60 562.35h-2.0M439.65 596.05v-2.0M439.65 428.15v2.0M386.50 556.93h2.0M614.60 556.93h-2.0M445.67 596.05v-2.0M445.67 428.15v2.0M386.50 552.50h2.0M614.60 552.50h-2.0M450.76 596.05v-2.0M450.76 428.15v2.0M386.50 548.75h2.0M614.60 548.75h-2.0M455.16 596.05v-2.0M455.16 428.15v2.0M386.50 545.51h2.0M614.60 545.51h-2.0M459.05 596.05v-2.0M459.05 428.15v2.0M386.50 542.64h2.0M614.60 542.64h-2.0M462.53 596.05v-4.0M462.53 428.15v4.0M386.50 540.08h4.0M614.60 540.08h-4.0M485.42 596.05v-2.0M485.42 428.15v2.0M386.50 523.24h2.0M614.60 523.24h-2.0M498.81 596.05v-2.0M498.81 428.15v2.0M386.50 513.38h2.0M614.60 513.38h-2.0M508.31 596.05v-2.0M508.31 428.15v2.0M386.50 506.39h2.0M614.60 506.39h-2.0M515.68 596.05v-2.0M515.68 428.15v2.0M386.50 500.96h2.0M614.60 500.96h-2.0M521.70 596.05v-2.0M521.70 428.15v2.0M386.50 496.53h2.0M614.60 496.53h-2.0M526.79 596.05v-2.0M526.79 428.15v2.0M386.50 492.79h2.0M614.60 492.79h-2.0M531.20 596.05v-2.0M531.20 428.15v2.0M386.50 489.54h2.0M614.60 489.54h-2.0M535.09 596.05v-2.0M535.09 428.15v2.0M386.50 486.68h2.0M614.60 486.68h-2.0M538.57 596.05v-4.0M538.57 428.15v4.0M386.50 484.12h4.0M614.60 484.12h-4.0M561.45 596.05v-2.0M561.45 428.15v2.0M386.50 467.27h2.0M614.60 467.27h-2.0M574.84 596.05v-2.0M574.84 428.15v2.0M386.50 457.41h2.0M614.60 457.41h-2.0M584.34 596.05v-2.0M584.34 428.15v2.0M386.50 450.42h2.0M614.60 450.42h-2.0M591.71 596.05v-2.0M591.71 428.15v2.0M386.50 445.00h2.0M614.60 445.00h-2.0M597.73 596.05v-2.0M597.73 428.15v2.0M386.50 440.57h2.0M614.60 440.57h-2.0M602.82 596.05v-2.0M602.82 428.15v2.0M386.50 436.82h2.0M614.60 436.82h-2.0M607.23 596.05v-2.0M607.23 428.15v2.0M386.50 433.57h2.0M614.60 433.57h-2.0M611.12 596.05v-2.0M611.12 428.15v2.0M386.50 430.71h2.0M614.60 430.71h-2.0" stroke="#000" stroke-width="0.9" fill="none"/>
<rect x="386.50" y="428.15" width="228.10" height="167.90" fill="none" stroke="#000" stroke-width="1.0"/>
<text transform="translate(359.27 431.44) scale(1.056 1)" font-size="10.99" fill="#000">10</text>
<rect x="373.20" y="425.17" width="4.80" height="0.85" fill="#000"/>
<text transform="translate(378.44 427.47) scale(1.091 1)" font-size="8.21" fill="#000">5</text>
<text transform="translate(359.27 487.41) scale(1.056 1)" font-size="10.99" fill="#000">10</text>
<rect x="373.20" y="481.14" width="4.80" height="0.85" fill="#000"/>
<text transform="translate(378.33 483.44) scale(1.154 1)" font-size="8.10" fill="#000">6</text>
<text transform="translate(359.27 543.37) scale(1.056 1)" font-size="10.99" fill="#000">10</text>
<rect x="373.20" y="537.11" width="4.80" height="0.85" fill="#000"/>
<text transform="translate(378.33 539.48) scale(1.122 1)" font-size="8.33" fill="#000">7</text>
<text transform="translate(359.27 599.34) scale(1.056 1)" font-size="10.99" fill="#000">10</text>
<rect x="373.20" y="593.08" width="4.80" height="0.85" fill="#000"/>
<text transform="translate(378.43 595.37) scale(1.130 1)" font-size="8.10" fill="#000">8</text>
<text transform="translate(373.86 607.44) scale(1.065 1)" font-size="10.99" fill="#000">10</text>
<rect x="387.80" y="600.58" width="4.90" height="0.85" fill="#000"/>
<text transform="translate(393.03 603.52) scale(1.117 1)" font-size="8.38" fill="#000">8</text>
<text transform="translate(449.90 607.44) scale(1.065 1)" font-size="10.99" fill="#000">10</text>
<rect x="463.83" y="600.58" width="4.90" height="0.85" fill="#000"/>
<text transform="translate(468.96 603.60) scale(1.109 1)" font-size="8.62" fill="#000">7</text>
<text transform="translate(525.93 607.44) scale(1.065 1)" font-size="10.99" fill="#000">10</text>
<rect x="539.87" y="600.58" width="4.90" height="0.85" fill="#000"/>
<text transform="translate(544.99 603.52) scale(1.141 1)" font-size="8.38" fill="#000">6</text>
<text transform="translate(601.96 607.44) scale(1.065 1)" font-size="10.99" fill="#000">10</text>
<rect x="615.90" y="600.58" width="4.90" height="0.85" fill="#000"/>
<text transform="translate(621.13 603.51) scale(1.078 1)" font-size="8.50" fill="#000">5</text>
<rect x="629.00" y="428.15" width="8.50" height="9.14" fill="#9b0000"/>
<rect x="629.00" y="436.99" width="8.50" height="9.14" fill="#da0000"/>
<rect x="629.00" y="445.82" width="8.50" height="9.14" fill="#ff2500"/>
<rect x="629.00" y="454.66" width="8.50" height="9.14" fill="#ff5900"/>
<rect x="629.00" y="463.50" width="8.50" height="9.14" fill="#ff8900"/>
<rect x="629.00" y="472.33" width="8.50" height="9.14" fill="#ffbd00"/>
<rect x="629.00" y="481.17" width="8.50" height="9.14" fill="#feed00"/>
<rect x="629.00" y="490.01" width="8.50" height="9.14" fill="#d1ff26"/>
<rect x="629.00" y="498.84" width="8.50" height="9.14" fill="#a7ff50"/>
<rect x="629.00" y="507.68" width="8.50" height="9.14" fill="#7dff7a"/>
<rect x="629.00" y="516.52" width="8.50" height="9.14" fill="#50ffa7"/>
<rect x="629.00" y="525.36" width="8.50" height="9.14" fill="#26ffd1"/>
<rect x="629.00" y="534.19" width="8.50" height="9.14" fill="#00dcfe"/>
<rect x="629.00" y="543.03" width="8.50" height="9.14" fill="#00a8ff"/>
<rect x="629.00" y="551.87" width="8.50" height="9.14" fill="#0070ff"/>
<rect x="629.00" y="560.70" width="8.50" height="9.14" fill="#003cff"/>
<rect x="629.00" y="569.54" width="8.50" height="9.14" fill="#0004ff"/>
<rect x="629.00" y="578.38" width="8.50" height="9.14" fill="#0000da"/>
<rect x="629.00" y="587.21" width="8.50" height="8.84" fill="#00009b"/>
<rect x="629.00" y="428.15" width="8.50" height="167.90" fill="none" stroke="#000" stroke-width="1.1"/>
<text transform="translate(639.77 440.58) scale(1.084 1)" font-size="10.70" fill="#000">10</text>
<rect x="653.60" y="433.92" width="4.90" height="0.85" fill="#000"/>
<text transform="translate(659.50 436.94) scale(0.987 1)" font-size="8.14" fill="#000">21</text>
<text transform="translate(639.77 486.61) scale(1.084 1)" font-size="10.70" fill="#000">10</text>
<rect x="653.60" y="479.94" width="4.90" height="0.85" fill="#000"/>
<text transform="translate(659.50 482.89) scale(1.001 1)" font-size="8.03" fill="#000">23</text>
<text transform="translate(639.77 532.63) scale(1.084 1)" font-size="10.70" fill="#000">10</text>
<rect x="653.60" y="525.97" width="4.90" height="0.85" fill="#000"/>
<text transform="translate(659.50 528.91) scale(0.992 1)" font-size="8.03" fill="#000">25</text>
<text transform="translate(639.77 578.66) scale(1.084 1)" font-size="10.70" fill="#000">10</text>
<rect x="653.60" y="571.99" width="4.90" height="0.85" fill="#000"/>
<text transform="translate(659.50 575.02) scale(0.987 1)" font-size="8.14" fill="#000">27</text>
<path d="M637.50 436.94h-4M637.50 482.97h-4M637.50 528.99h-4M637.50 575.02h-4" stroke="#000" stroke-width="0.9"/>
<text transform="translate(474.78 417.85) scale(0.878 1)" font-size="13.58" font-style="italic" fill="#000">x</text>
<text transform="translate(482.35 419.56) scale(1.155 1)" font-size="9.32" fill="#000">kd</text>
<text transform="translate(497.10 417.31) scale(1.455 1)" font-size="10.94" fill="#000">=</text>
<text transform="translate(510.55 417.72) scale(1.105 1)" font-size="12.54" fill="#000">50</text>
<path d="M584.00 409.10L581.90 413.70L584.00 418.30" stroke="#000" stroke-width="0.9" fill="none"/>
<path d="M627.10 409.10L629.20 413.70L627.10 418.30" stroke="#000" stroke-width="0.9" fill="none"/>
<text class="ns" transform="translate(585.05 417.09) scale(1.089 1)" font-size="10.56" font-style="italic" fill="#000">σ</text>
<text class="ns" transform="translate(592.73 418.71) scale(1.029 1)" font-size="8.91" fill="#000">ann</text>
<text class="ns" transform="translate(607.14 417.20) scale(1.186 1)" font-size="11.13" font-style="italic" fill="#000">v</text>
<text class="ns" transform="translate(614.90 418.71) scale(1.123 1)" font-size="8.90" fill="#000">rel</text>
<path d="M634.30 408.70H632.00V418.30H634.30" stroke="#000" stroke-width="0.95" fill="none"/>
<text class="ns" transform="translate(635.36 416.89) scale(1.280 1)" font-size="10.55" fill="#000">cm</text>
<text class="ns" transform="translate(653.05 411.53) scale(1.239 1)" font-size="7.04" fill="#000">3</text>
<text class="ns" transform="translate(662.55 416.89) scale(1.103 1)" font-size="10.55" fill="#000">s</text>
<text class="ns" transform="translate(669.12 412.40) scale(1.474 1)" font-size="6.52" fill="#000">−1</text>
<path d="M681.90 408.70H684.20V418.30H681.90" stroke="#000" stroke-width="0.95" fill="none"/>
<path d="M-1 102.90 L8.1 108.40 L12.4 109.60 M-1 111.60 Q1.2 110.10 4.3 109.40 L8.1 108.60" stroke="#000" stroke-width="1.4" fill="none" stroke-linejoin="round"/>
<path d="M-1 304.65 L8.1 310.15 L12.4 311.35 M-1 313.35 Q1.2 311.85 4.3 311.15 L8.1 310.35" stroke="#000" stroke-width="1.4" fill="none" stroke-linejoin="round"/>
<path d="M-1 506.60 L8.1 512.10 L12.4 513.30 M-1 515.30 Q1.2 513.80 4.3 513.10 L8.1 512.30" stroke="#000" stroke-width="1.4" fill="none" stroke-linejoin="round"/>
<text transform="translate(153.01 623.98) scale(0.959 1)" font-size="17.12" font-style="italic" fill="#000">δ</text>
<text transform="translate(489.32 620.89) scale(2.743 1)" font-size="7.14" fill="#000">−</text>
<text transform="translate(502.41 623.88) scale(0.959 1)" font-size="17.12" font-style="italic" fill="#000">δ</text>
</svg>
</body></html>
